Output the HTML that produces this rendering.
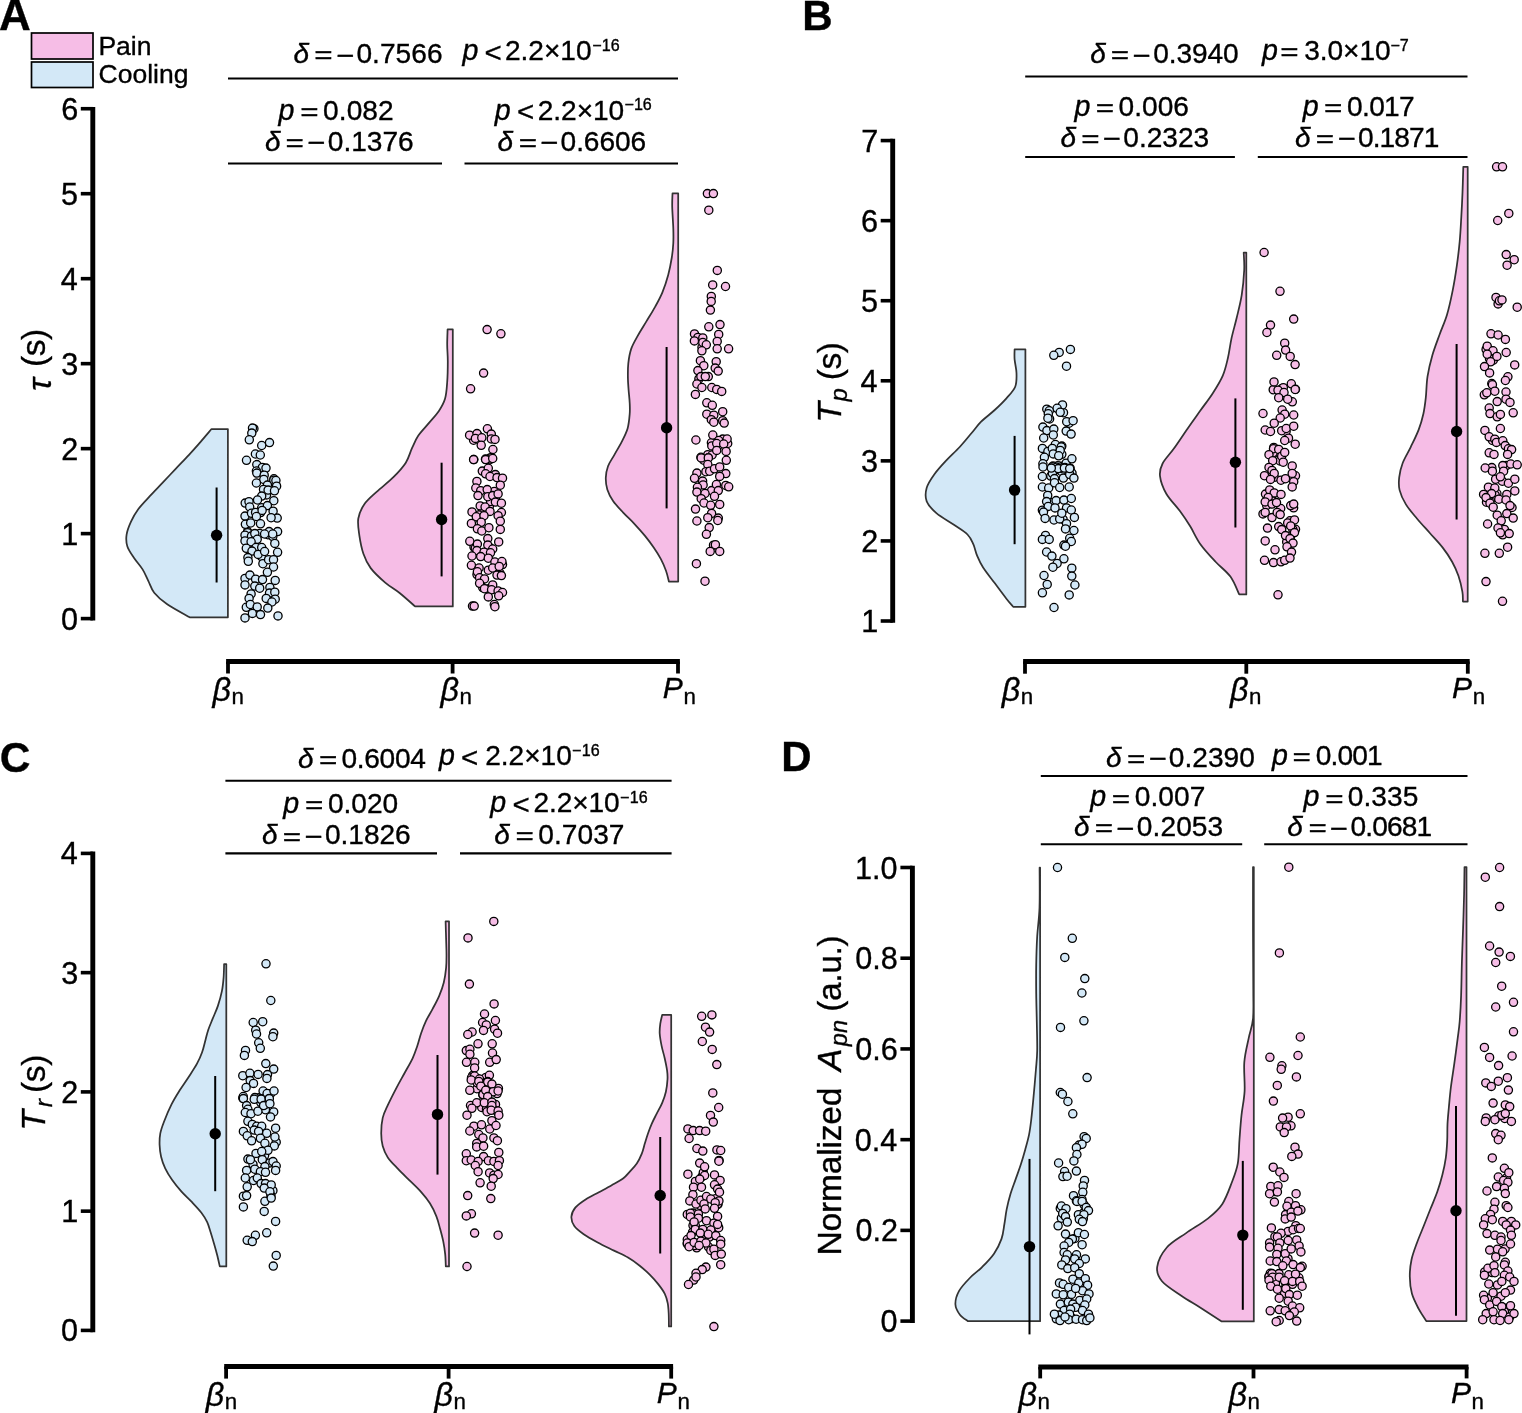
<!DOCTYPE html><html><head><meta charset="utf-8"><title>Raincloud plots</title><style>
html,body{margin:0;padding:0;background:#fff;width:1522px;height:1413px;overflow:hidden}
svg{display:block}
text{font-family:"Liberation Sans", Arial, Helvetica, sans-serif;fill:#000;stroke:#000;stroke-width:0.35px}
.v{stroke:#333;stroke-width:1.75;stroke-linejoin:round}
.pp circle{fill:#f6bde6}.pb circle{fill:#d3e8f7}.pp,.pb{stroke:#000;stroke-width:1.3}
</style></head><body>
<svg width="1522" height="1413" viewBox="0 0 1522 1413">
<rect width="1522" height="1413" fill="#fff"/>
<rect x="31.5" y="33" width="61.5" height="26" fill="#f6bde6" stroke="#000" stroke-width="1.7"/>
<rect x="31.5" y="62" width="61.5" height="25.5" fill="#d3e8f7" stroke="#000" stroke-width="1.7"/>
<line x1="92.8" y1="106.92" x2="92.8" y2="620.40" stroke="#000" stroke-width="4.9"/>
<line x1="80.8" y1="618.60" x2="92.8" y2="618.60" stroke="#000" stroke-width="3.6"/>
<line x1="80.8" y1="533.62" x2="92.8" y2="533.62" stroke="#000" stroke-width="3.6"/>
<line x1="80.8" y1="448.64" x2="92.8" y2="448.64" stroke="#000" stroke-width="3.6"/>
<line x1="80.8" y1="363.66" x2="92.8" y2="363.66" stroke="#000" stroke-width="3.6"/>
<line x1="80.8" y1="278.68" x2="92.8" y2="278.68" stroke="#000" stroke-width="3.6"/>
<line x1="80.8" y1="193.70" x2="92.8" y2="193.70" stroke="#000" stroke-width="3.6"/>
<line x1="80.8" y1="108.72" x2="92.8" y2="108.72" stroke="#000" stroke-width="3.6"/>
<line x1="226.1" y1="661.6" x2="679.9" y2="661.6" stroke="#000" stroke-width="5"/>
<line x1="228.0" y1="661.6" x2="228.0" y2="673.5" stroke="#000" stroke-width="3.8"/>
<line x1="452.6" y1="661.6" x2="452.6" y2="673.5" stroke="#000" stroke-width="3.8"/>
<line x1="678.0" y1="661.6" x2="678.0" y2="673.5" stroke="#000" stroke-width="3.8"/>
<line x1="892.7" y1="138.78" x2="892.7" y2="622.80" stroke="#000" stroke-width="4.9"/>
<line x1="880.7" y1="621.00" x2="892.7" y2="621.00" stroke="#000" stroke-width="3.6"/>
<line x1="880.7" y1="540.93" x2="892.7" y2="540.93" stroke="#000" stroke-width="3.6"/>
<line x1="880.7" y1="460.86" x2="892.7" y2="460.86" stroke="#000" stroke-width="3.6"/>
<line x1="880.7" y1="380.79" x2="892.7" y2="380.79" stroke="#000" stroke-width="3.6"/>
<line x1="880.7" y1="300.72" x2="892.7" y2="300.72" stroke="#000" stroke-width="3.6"/>
<line x1="880.7" y1="220.65" x2="892.7" y2="220.65" stroke="#000" stroke-width="3.6"/>
<line x1="880.7" y1="140.58" x2="892.7" y2="140.58" stroke="#000" stroke-width="3.6"/>
<line x1="1023.1" y1="661.5" x2="1469.7" y2="661.5" stroke="#000" stroke-width="5"/>
<line x1="1025.0" y1="661.5" x2="1025.0" y2="673.7" stroke="#000" stroke-width="3.8"/>
<line x1="1246.3" y1="661.5" x2="1246.3" y2="673.7" stroke="#000" stroke-width="3.8"/>
<line x1="1467.8" y1="661.5" x2="1467.8" y2="673.7" stroke="#000" stroke-width="3.8"/>
<line x1="92.8" y1="851.60" x2="92.8" y2="1332.20" stroke="#000" stroke-width="4.9"/>
<line x1="80.8" y1="1330.40" x2="92.8" y2="1330.40" stroke="#000" stroke-width="3.6"/>
<line x1="80.8" y1="1211.15" x2="92.8" y2="1211.15" stroke="#000" stroke-width="3.6"/>
<line x1="80.8" y1="1091.90" x2="92.8" y2="1091.90" stroke="#000" stroke-width="3.6"/>
<line x1="80.8" y1="972.65" x2="92.8" y2="972.65" stroke="#000" stroke-width="3.6"/>
<line x1="80.8" y1="853.40" x2="92.8" y2="853.40" stroke="#000" stroke-width="3.6"/>
<line x1="224.2" y1="1366.6" x2="673.1" y2="1366.6" stroke="#000" stroke-width="5"/>
<line x1="226.1" y1="1366.6" x2="226.1" y2="1378.6" stroke="#000" stroke-width="3.8"/>
<line x1="448.6" y1="1366.6" x2="448.6" y2="1378.6" stroke="#000" stroke-width="3.8"/>
<line x1="671.2" y1="1366.6" x2="671.2" y2="1378.6" stroke="#000" stroke-width="3.8"/>
<line x1="912.4" y1="865.70" x2="912.4" y2="1322.90" stroke="#000" stroke-width="4.9"/>
<line x1="900.4" y1="1321.10" x2="912.4" y2="1321.10" stroke="#000" stroke-width="3.6"/>
<line x1="900.4" y1="1230.38" x2="912.4" y2="1230.38" stroke="#000" stroke-width="3.6"/>
<line x1="900.4" y1="1139.66" x2="912.4" y2="1139.66" stroke="#000" stroke-width="3.6"/>
<line x1="900.4" y1="1048.94" x2="912.4" y2="1048.94" stroke="#000" stroke-width="3.6"/>
<line x1="900.4" y1="958.22" x2="912.4" y2="958.22" stroke="#000" stroke-width="3.6"/>
<line x1="900.4" y1="867.50" x2="912.4" y2="867.50" stroke="#000" stroke-width="3.6"/>
<line x1="1038.3" y1="1367.0" x2="1468.5" y2="1367.0" stroke="#000" stroke-width="5"/>
<line x1="1040.2" y1="1367.0" x2="1040.2" y2="1378.4" stroke="#000" stroke-width="3.8"/>
<line x1="1253.5" y1="1367.0" x2="1253.5" y2="1378.4" stroke="#000" stroke-width="3.8"/>
<line x1="1466.6" y1="1367.0" x2="1466.6" y2="1378.4" stroke="#000" stroke-width="3.8"/>
<path class="v" d="M211.50,429.00 C209.68,431.13 204.35,437.50 200.60,441.80 C196.85,446.10 193.12,450.33 189.00,454.80 C184.88,459.27 180.25,464.00 175.90,468.60 C171.55,473.20 167.25,477.80 162.90,482.40 C158.55,487.00 153.92,491.73 149.80,496.20 C145.68,500.67 141.33,504.97 138.20,509.20 C135.07,513.43 132.93,517.37 131.00,521.60 C129.07,525.83 127.22,530.50 126.60,534.60 C125.98,538.70 126.08,542.33 127.30,546.20 C128.52,550.07 131.35,553.93 133.90,557.80 C136.45,561.67 140.18,565.52 142.60,569.40 C145.02,573.28 146.47,577.22 148.40,581.10 C150.33,584.98 151.07,588.83 154.20,592.70 C157.33,596.57 161.28,600.20 167.20,604.30 C173.12,608.40 185.95,615.13 189.70,617.30 L227.90,617.30 L227.90,429.00 Z" fill="#d3e8f7"/>
<path class="v" d="M447.60,329.30 C447.53,331.88 447.17,339.45 447.20,344.80 C447.23,350.15 447.80,355.20 447.80,361.40 C447.80,367.60 447.65,375.80 447.20,382.00 C446.75,388.20 446.48,393.77 445.10,398.60 C443.72,403.43 441.65,406.87 438.90,411.00 C436.15,415.13 432.05,419.27 428.60,423.40 C425.15,427.53 420.97,431.67 418.20,435.80 C415.43,439.93 414.07,443.72 412.00,448.20 C409.93,452.68 408.90,457.87 405.80,462.70 C402.70,467.53 398.22,472.38 393.40,477.20 C388.58,482.02 381.72,487.13 376.90,491.60 C372.08,496.07 367.60,499.52 364.50,504.00 C361.40,508.48 359.17,513.32 358.30,518.50 C357.43,523.68 358.45,529.23 359.30,535.10 C360.15,540.97 361.50,548.20 363.40,553.70 C365.30,559.20 367.07,563.28 370.70,568.10 C374.33,572.92 380.38,578.45 385.20,582.60 C390.02,586.75 394.62,589.03 399.60,593.00 C404.58,596.97 412.52,604.17 415.10,606.40 L452.80,606.40 L452.80,329.30 Z" fill="#f6bde6"/>
<path class="v" d="M672.50,193.40 C672.45,195.63 672.07,200.95 672.20,206.80 C672.33,212.65 673.12,222.47 673.30,228.50 C673.48,234.53 673.55,238.17 673.30,243.00 C673.05,247.83 672.65,252.18 671.80,257.50 C670.95,262.82 669.77,269.10 668.20,274.90 C666.63,280.70 664.58,286.98 662.40,292.30 C660.22,297.62 657.77,301.95 655.10,306.80 C652.43,311.65 649.30,316.55 646.40,321.40 C643.50,326.25 640.23,331.32 637.70,335.90 C635.17,340.48 632.77,344.32 631.20,348.90 C629.63,353.48 628.85,358.57 628.30,363.40 C627.75,368.23 627.85,373.47 627.90,377.90 C627.95,382.33 628.30,385.82 628.60,390.00 C628.90,394.18 629.52,399.00 629.70,403.00 C629.88,407.00 630.05,409.75 629.70,414.00 C629.35,418.25 628.92,423.90 627.60,428.50 C626.28,433.10 623.98,437.25 621.80,441.60 C619.62,445.95 616.80,450.50 614.50,454.60 C612.20,458.70 609.45,462.33 608.00,466.20 C606.55,470.07 605.92,473.93 605.80,477.80 C605.68,481.67 606.08,485.53 607.30,489.40 C608.52,493.27 610.45,497.13 613.10,501.00 C615.75,504.87 619.58,508.72 623.20,512.60 C626.82,516.48 631.17,520.42 634.80,524.30 C638.43,528.18 641.85,532.03 645.00,535.90 C648.15,539.77 651.05,543.63 653.70,547.50 C656.35,551.37 658.85,555.23 660.90,559.10 C662.95,562.97 664.67,566.97 666.00,570.70 C667.33,574.43 668.42,579.70 668.90,581.50 L678.20,581.50 L678.20,193.40 Z" fill="#f6bde6"/>
<path class="v" d="M1014.60,349.30 C1014.60,350.98 1014.28,355.43 1014.60,359.40 C1014.92,363.37 1016.40,368.55 1016.50,373.10 C1016.60,377.65 1016.88,382.50 1015.20,386.70 C1013.52,390.90 1009.82,394.42 1006.40,398.30 C1002.98,402.18 998.92,406.10 994.70,410.00 C990.48,413.90 984.98,417.82 981.10,421.70 C977.22,425.58 974.97,429.08 971.40,433.30 C967.83,437.52 963.92,442.45 959.70,447.00 C955.48,451.55 950.32,456.07 946.10,460.60 C941.88,465.13 937.63,469.67 934.40,474.20 C931.17,478.73 927.98,483.27 926.70,487.80 C925.42,492.33 925.08,497.18 926.70,501.40 C928.32,505.62 931.87,509.20 936.40,513.10 C940.93,517.00 948.72,521.23 953.90,524.80 C959.08,528.37 964.27,531.27 967.50,534.50 C970.73,537.73 971.68,540.63 973.30,544.20 C974.92,547.77 975.57,552.02 977.20,555.90 C978.83,559.78 980.18,562.97 983.10,567.50 C986.02,572.03 990.82,577.90 994.70,583.10 C998.58,588.30 1003.32,594.75 1006.40,598.70 C1009.48,602.65 1012.07,605.45 1013.20,606.80 L1025.40,606.80 L1025.40,349.30 Z" fill="#d3e8f7"/>
<path class="v" d="M1243.70,252.50 C1243.78,255.43 1244.53,262.98 1244.20,270.10 C1243.87,277.22 1242.95,287.25 1241.70,295.20 C1240.45,303.15 1238.38,310.68 1236.70,317.80 C1235.02,324.92 1233.07,331.20 1231.60,337.90 C1230.13,344.60 1229.37,351.72 1227.90,358.00 C1226.43,364.28 1225.32,369.73 1222.80,375.60 C1220.28,381.47 1216.57,387.33 1212.80,393.20 C1209.03,399.07 1204.38,404.93 1200.20,410.80 C1196.02,416.67 1192.08,422.12 1187.70,428.40 C1183.32,434.68 1178.08,442.65 1173.90,448.50 C1169.72,454.35 1164.92,458.90 1162.60,463.50 C1160.28,468.10 1159.38,471.07 1160.00,476.10 C1160.62,481.13 1162.95,487.83 1166.30,493.70 C1169.65,499.57 1176.12,505.87 1180.10,511.30 C1184.08,516.73 1186.85,520.87 1190.20,526.30 C1193.55,531.73 1196.02,538.03 1200.20,543.90 C1204.38,549.77 1210.27,556.05 1215.30,561.50 C1220.33,566.95 1226.42,571.12 1230.40,576.60 C1234.38,582.08 1237.73,591.43 1239.20,594.40 L1246.30,594.40 L1246.30,252.50 Z" fill="#f6bde6"/>
<path class="v" d="M1463.30,166.80 C1463.17,171.10 1462.83,184.23 1462.50,192.60 C1462.17,200.97 1461.77,208.87 1461.30,217.00 C1460.83,225.13 1460.45,233.27 1459.70,241.40 C1458.95,249.53 1457.97,257.65 1456.80,265.80 C1455.63,273.95 1454.33,282.15 1452.70,290.30 C1451.07,298.45 1449.17,307.38 1447.00,314.70 C1444.83,322.02 1442.15,327.42 1439.70,334.20 C1437.25,340.98 1434.33,348.33 1432.30,355.40 C1430.27,362.47 1428.58,369.55 1427.50,376.60 C1426.42,383.65 1426.48,391.52 1425.80,397.70 C1425.12,403.88 1424.58,408.38 1423.40,413.70 C1422.22,419.02 1420.82,424.03 1418.70,429.60 C1416.58,435.17 1413.37,441.53 1410.70,447.10 C1408.03,452.67 1404.62,457.97 1402.70,463.00 C1400.78,468.03 1399.72,472.78 1399.20,477.30 C1398.68,481.82 1398.48,485.58 1399.60,490.10 C1400.72,494.62 1402.98,499.63 1405.90,504.40 C1408.82,509.17 1413.12,513.93 1417.10,518.70 C1421.08,523.47 1425.57,528.22 1429.80,533.00 C1434.03,537.78 1438.78,542.62 1442.50,547.40 C1446.22,552.18 1449.43,556.93 1452.10,561.70 C1454.77,566.47 1456.78,570.97 1458.50,576.00 C1460.22,581.03 1461.67,587.65 1462.40,591.90 C1463.13,596.15 1462.82,599.90 1462.90,601.50 L1467.70,601.50 L1467.70,166.80 Z" fill="#f6bde6"/>
<path class="v" d="M224.10,964.10 C224.02,966.35 223.97,973.08 223.60,977.60 C223.23,982.12 222.85,986.48 221.90,991.20 C220.95,995.92 219.42,1001.37 217.90,1005.90 C216.38,1010.43 214.40,1014.43 212.80,1018.40 C211.20,1022.37 209.52,1026.12 208.30,1029.70 C207.08,1033.28 206.53,1036.13 205.50,1039.90 C204.47,1043.67 203.52,1048.33 202.10,1052.30 C200.68,1056.27 199.27,1059.55 197.00,1063.70 C194.73,1067.85 191.43,1072.68 188.50,1077.20 C185.57,1081.72 182.23,1086.27 179.40,1090.80 C176.57,1095.33 174.07,1099.25 171.50,1104.40 C168.93,1109.55 165.87,1116.87 164.00,1121.70 C162.13,1126.53 161.03,1129.52 160.30,1133.40 C159.57,1137.28 159.47,1141.12 159.60,1145.00 C159.73,1148.88 160.17,1152.80 161.10,1156.70 C162.03,1160.60 163.35,1164.50 165.20,1168.40 C167.05,1172.30 169.48,1176.22 172.20,1180.10 C174.92,1183.98 178.20,1188.02 181.50,1191.70 C184.80,1195.38 188.68,1198.70 192.00,1202.20 C195.32,1205.70 198.87,1209.38 201.40,1212.70 C203.93,1216.02 205.65,1218.78 207.20,1222.10 C208.75,1225.42 209.53,1228.90 210.70,1232.60 C211.87,1236.30 213.13,1240.60 214.20,1244.30 C215.27,1248.00 216.17,1251.12 217.10,1254.80 C218.03,1258.48 219.35,1264.47 219.80,1266.40 L226.30,1266.40 L226.30,964.10 Z" fill="#d3e8f7"/>
<path class="v" d="M445.60,921.30 C445.68,924.18 445.95,933.05 446.10,938.60 C446.25,944.15 446.50,949.72 446.50,954.60 C446.50,959.48 446.55,963.25 446.10,967.90 C445.65,972.55 444.95,977.85 443.80,982.50 C442.65,987.15 441.08,991.37 439.20,995.80 C437.32,1000.23 434.72,1004.88 432.50,1009.10 C430.28,1013.32 427.78,1017.12 425.90,1021.10 C424.02,1025.08 422.65,1028.80 421.20,1033.00 C419.75,1037.20 418.63,1042.08 417.20,1046.30 C415.77,1050.52 414.70,1053.85 412.60,1058.30 C410.50,1062.75 407.27,1068.12 404.60,1073.00 C401.93,1077.88 399.40,1082.23 396.60,1087.60 C393.80,1092.97 390.12,1100.15 387.80,1105.20 C385.48,1110.25 383.80,1113.23 382.70,1117.90 C381.60,1122.57 381.20,1128.52 381.20,1133.20 C381.20,1137.88 381.60,1141.97 382.70,1146.00 C383.80,1150.03 385.25,1153.58 387.80,1157.40 C390.35,1161.22 394.38,1165.07 398.00,1168.90 C401.62,1172.73 405.67,1176.57 409.50,1180.40 C413.33,1184.23 417.60,1188.08 421.00,1191.90 C424.40,1195.72 427.35,1199.27 429.90,1203.30 C432.45,1207.33 434.60,1211.85 436.30,1216.10 C438.00,1220.35 438.93,1224.55 440.10,1228.80 C441.27,1233.05 442.45,1237.35 443.30,1241.60 C444.15,1245.85 444.78,1250.17 445.20,1254.30 C445.62,1258.43 445.70,1264.38 445.80,1266.40 L449.00,1266.40 L449.00,921.30 Z" fill="#f6bde6"/>
<path class="v" d="M662.20,1014.90 C661.88,1016.35 660.72,1020.50 660.30,1023.60 C659.88,1026.70 659.48,1029.78 659.70,1033.50 C659.92,1037.22 660.77,1041.78 661.60,1045.90 C662.43,1050.02 663.78,1054.08 664.70,1058.20 C665.62,1062.32 666.63,1067.08 667.10,1070.60 C667.57,1074.12 667.70,1075.78 667.50,1079.30 C667.30,1082.82 666.78,1087.78 665.90,1091.70 C665.02,1095.62 663.75,1099.10 662.20,1102.80 C660.65,1106.50 658.35,1110.40 656.60,1113.90 C654.85,1117.40 653.15,1120.50 651.70,1123.80 C650.25,1127.10 649.05,1130.40 647.90,1133.70 C646.75,1137.00 645.82,1140.28 644.80,1143.60 C643.78,1146.92 643.13,1150.28 641.80,1153.60 C640.47,1156.92 638.87,1160.42 636.80,1163.50 C634.73,1166.58 631.63,1169.65 629.40,1172.10 C627.17,1174.55 626.35,1176.02 623.40,1178.20 C620.45,1180.38 615.78,1182.87 611.70,1185.20 C607.62,1187.53 603.18,1189.87 598.90,1192.20 C594.62,1194.53 589.90,1196.67 586.00,1199.20 C582.10,1201.73 577.93,1204.48 575.50,1207.40 C573.07,1210.32 571.60,1213.60 571.40,1216.70 C571.20,1219.80 572.25,1223.08 574.30,1226.00 C576.35,1228.92 579.80,1231.47 583.70,1234.20 C587.60,1236.93 592.65,1239.67 597.70,1242.40 C602.75,1245.13 608.95,1248.07 614.00,1250.60 C619.05,1253.13 623.72,1255.08 628.00,1257.60 C632.28,1260.12 636.00,1262.78 639.70,1265.70 C643.40,1268.62 647.08,1271.98 650.20,1275.10 C653.32,1278.22 655.97,1281.28 658.40,1284.40 C660.83,1287.52 663.25,1290.68 664.80,1293.80 C666.35,1296.92 667.05,1299.80 667.70,1303.10 C668.35,1306.40 668.50,1309.72 668.70,1313.60 C668.90,1317.48 668.87,1324.27 668.90,1326.40 L671.20,1326.40 L671.20,1014.90 Z" fill="#f6bde6"/>
<path class="v" d="M1039.60,867.60 C1039.58,874.28 1039.90,896.25 1039.50,907.70 C1039.10,919.15 1037.75,926.77 1037.20,936.30 C1036.65,945.83 1036.37,955.37 1036.20,964.90 C1036.03,974.43 1036.10,983.97 1036.20,993.50 C1036.30,1003.03 1036.63,1012.57 1036.80,1022.10 C1036.97,1031.63 1037.35,1042.75 1037.20,1050.70 C1037.05,1058.65 1036.53,1061.85 1035.90,1069.80 C1035.27,1077.75 1034.18,1090.03 1033.40,1098.40 C1032.62,1106.77 1031.93,1113.92 1031.20,1120.00 C1030.47,1126.08 1030.00,1129.95 1029.00,1134.90 C1028.00,1139.85 1026.57,1144.75 1025.20,1149.70 C1023.83,1154.65 1022.40,1159.65 1020.80,1164.60 C1019.20,1169.55 1017.33,1174.45 1015.60,1179.40 C1013.87,1184.35 1011.88,1189.33 1010.40,1194.30 C1008.92,1199.27 1007.70,1204.25 1006.70,1209.20 C1005.70,1214.15 1005.27,1219.05 1004.40,1224.00 C1003.53,1228.95 1003.23,1233.95 1001.50,1238.90 C999.77,1243.85 997.23,1249.00 994.00,1253.70 C990.77,1258.40 986.05,1263.13 982.10,1267.10 C978.15,1271.07 974.13,1273.53 970.30,1277.50 C966.47,1281.47 961.58,1286.45 959.10,1290.90 C956.62,1295.35 955.27,1300.23 955.40,1304.20 C955.53,1308.17 957.80,1311.87 959.90,1314.70 C962.00,1317.53 966.65,1320.12 968.00,1321.20 L1040.10,1321.20 L1040.10,867.60 Z" fill="#d3e8f7"/>
<path class="v" d="M1253.00,867.10 C1253.00,877.58 1252.95,909.52 1253.00,930.00 C1253.05,950.48 1253.30,975.18 1253.30,990.00 C1253.30,1004.82 1253.77,1010.88 1253.00,1018.90 C1252.23,1026.92 1250.15,1030.88 1248.70,1038.10 C1247.25,1045.32 1244.98,1053.37 1244.30,1062.20 C1243.62,1071.03 1245.07,1082.27 1244.60,1091.10 C1244.13,1099.93 1242.35,1107.18 1241.50,1115.20 C1240.65,1123.22 1240.12,1131.18 1239.50,1139.20 C1238.88,1147.22 1239.08,1156.08 1237.80,1163.30 C1236.52,1170.52 1234.40,1175.68 1231.80,1182.50 C1229.20,1189.32 1226.20,1198.18 1222.20,1204.20 C1218.20,1210.22 1213.82,1213.78 1207.80,1218.60 C1201.78,1223.42 1192.93,1228.28 1186.10,1233.10 C1179.27,1237.92 1171.62,1241.88 1166.80,1247.50 C1161.98,1253.12 1158.00,1261.18 1157.20,1266.80 C1156.40,1272.42 1157.98,1276.38 1162.00,1281.20 C1166.02,1286.02 1174.88,1291.28 1181.30,1295.70 C1187.72,1300.12 1193.77,1303.42 1200.50,1307.70 C1207.23,1311.98 1218.17,1319.12 1221.70,1321.40 L1253.80,1321.40 L1253.80,867.10 Z" fill="#f6bde6"/>
<path class="v" d="M1464.50,867.10 C1464.43,871.57 1464.33,883.77 1464.10,893.90 C1463.87,904.03 1463.47,916.58 1463.10,927.90 C1462.73,939.22 1462.23,950.48 1461.90,961.80 C1461.57,973.12 1461.47,985.90 1461.10,995.80 C1460.73,1005.70 1460.27,1014.13 1459.70,1021.20 C1459.13,1028.27 1458.60,1031.13 1457.70,1038.20 C1456.80,1045.27 1455.43,1055.47 1454.30,1063.60 C1453.17,1071.73 1451.80,1079.77 1450.90,1087.00 C1450.00,1094.23 1449.47,1100.85 1448.90,1107.00 C1448.33,1113.15 1447.78,1118.25 1447.50,1123.90 C1447.22,1129.55 1447.48,1135.23 1447.20,1140.90 C1446.92,1146.57 1446.60,1152.25 1445.80,1157.90 C1445.00,1163.55 1443.82,1169.15 1442.40,1174.80 C1440.98,1180.45 1439.28,1186.13 1437.30,1191.80 C1435.32,1197.47 1432.75,1203.13 1430.50,1208.80 C1428.25,1214.47 1426.05,1220.15 1423.80,1225.80 C1421.55,1231.45 1419.05,1237.05 1417.00,1242.70 C1414.95,1248.35 1412.70,1254.03 1411.50,1259.70 C1410.30,1265.37 1409.73,1271.05 1409.80,1276.70 C1409.87,1282.35 1410.42,1288.23 1411.90,1293.60 C1413.38,1298.97 1416.30,1304.33 1418.70,1308.90 C1421.10,1313.47 1425.03,1318.98 1426.30,1321.00 L1466.50,1321.00 L1466.50,867.10 Z" fill="#f6bde6"/>
<line x1="216.6" y1="487.5" x2="216.6" y2="582.5" stroke="#000" stroke-width="2"/>
<circle cx="216.6" cy="535.2" r="5.7" fill="#000"/>
<line x1="441.6" y1="462.7" x2="441.6" y2="576.4" stroke="#000" stroke-width="2"/>
<circle cx="441.6" cy="519.5" r="5.7" fill="#000"/>
<line x1="666.6" y1="347.0" x2="666.6" y2="508.4" stroke="#000" stroke-width="2"/>
<circle cx="666.6" cy="427.8" r="5.7" fill="#000"/>
<line x1="1014.6" y1="435.9" x2="1014.6" y2="544.2" stroke="#000" stroke-width="2"/>
<circle cx="1014.6" cy="490.1" r="5.7" fill="#000"/>
<line x1="1235.4" y1="398.4" x2="1235.4" y2="527.5" stroke="#000" stroke-width="2"/>
<circle cx="1235.4" cy="462.3" r="5.7" fill="#000"/>
<line x1="1456.6" y1="344.0" x2="1456.6" y2="519.5" stroke="#000" stroke-width="2"/>
<circle cx="1456.6" cy="431.5" r="5.7" fill="#000"/>
<line x1="215.2" y1="1076.0" x2="215.2" y2="1191.2" stroke="#000" stroke-width="2"/>
<circle cx="215.2" cy="1133.7" r="5.7" fill="#000"/>
<line x1="437.5" y1="1055.0" x2="437.5" y2="1174.6" stroke="#000" stroke-width="2"/>
<circle cx="437.5" cy="1114.4" r="5.7" fill="#000"/>
<line x1="660.2" y1="1137.0" x2="660.2" y2="1253.5" stroke="#000" stroke-width="2"/>
<circle cx="660.2" cy="1195.5" r="5.7" fill="#000"/>
<line x1="1029.5" y1="1158.9" x2="1029.5" y2="1334.4" stroke="#000" stroke-width="2"/>
<circle cx="1029.5" cy="1246.6" r="5.7" fill="#000"/>
<line x1="1242.8" y1="1160.9" x2="1242.8" y2="1309.8" stroke="#000" stroke-width="2"/>
<circle cx="1242.8" cy="1235.1" r="5.7" fill="#000"/>
<line x1="1456.0" y1="1106.1" x2="1456.0" y2="1315.7" stroke="#000" stroke-width="2"/>
<circle cx="1456.0" cy="1210.8" r="5.7" fill="#000"/>
<g class="pb">
<circle cx="255.0" cy="538.9" r="4.1"/><circle cx="266.5" cy="494.9" r="4.1"/><circle cx="253.9" cy="428.7" r="4.1"/><circle cx="268.0" cy="534.7" r="4.1"/><circle cx="245.2" cy="503.1" r="4.1"/><circle cx="259.7" cy="533.5" r="4.1"/><circle cx="254.3" cy="541.5" r="4.1"/><circle cx="273.9" cy="478.8" r="4.1"/><circle cx="258.6" cy="467.1" r="4.1"/><circle cx="272.4" cy="596.2" r="4.1"/><circle cx="272.8" cy="536.6" r="4.1"/><circle cx="275.5" cy="483.3" r="4.1"/><circle cx="260.6" cy="512.6" r="4.1"/><circle cx="273.2" cy="485.3" r="4.1"/><circle cx="247.6" cy="531.6" r="4.1"/><circle cx="261.5" cy="556.6" r="4.1"/><circle cx="247.5" cy="532.7" r="4.1"/><circle cx="254.5" cy="543.1" r="4.1"/><circle cx="252.5" cy="428.1" r="4.1"/><circle cx="251.8" cy="433.1" r="4.1"/><circle cx="249.3" cy="439.8" r="4.1"/><circle cx="261.7" cy="445.5" r="4.1"/><circle cx="269.5" cy="442.6" r="4.1"/><circle cx="255.4" cy="454.0" r="4.1"/><circle cx="260.3" cy="455.0" r="4.1"/><circle cx="246.5" cy="460.3" r="4.1"/><circle cx="256.8" cy="464.6" r="4.1"/><circle cx="262.4" cy="467.4" r="4.1"/><circle cx="266.0" cy="468.1" r="4.1"/><circle cx="256.4" cy="471.0" r="4.1"/><circle cx="256.8" cy="473.1" r="4.1"/><circle cx="264.2" cy="475.2" r="4.1"/><circle cx="263.8" cy="479.4" r="4.1"/><circle cx="273.8" cy="480.2" r="4.1"/><circle cx="275.9" cy="480.5" r="4.1"/><circle cx="256.4" cy="483.0" r="4.1"/><circle cx="267.4" cy="485.1" r="4.1"/><circle cx="276.6" cy="486.2" r="4.1"/><circle cx="263.5" cy="489.4" r="4.1"/><circle cx="268.1" cy="490.1" r="4.1"/><circle cx="274.5" cy="490.8" r="4.1"/><circle cx="261.7" cy="496.1" r="4.1"/><circle cx="257.5" cy="500.0" r="4.1"/><circle cx="249.0" cy="501.7" r="4.1"/><circle cx="273.8" cy="500.7" r="4.1"/><circle cx="249.7" cy="507.0" r="4.1"/><circle cx="261.7" cy="507.8" r="4.1"/><circle cx="267.4" cy="505.6" r="4.1"/><circle cx="245.0" cy="516.1" r="4.1"/><circle cx="251.5" cy="513.3" r="4.1"/><circle cx="255.6" cy="512.4" r="4.1"/><circle cx="262.1" cy="510.4" r="4.1"/><circle cx="273.1" cy="511.2" r="4.1"/><circle cx="256.4" cy="516.5" r="4.1"/><circle cx="277.2" cy="518.1" r="4.1"/><circle cx="271.1" cy="517.7" r="4.1"/><circle cx="245.4" cy="524.3" r="4.1"/><circle cx="250.7" cy="523.0" r="4.1"/><circle cx="260.5" cy="523.8" r="4.1"/><circle cx="269.1" cy="531.6" r="4.1"/><circle cx="277.6" cy="531.6" r="4.1"/><circle cx="264.6" cy="534.0" r="4.1"/><circle cx="272.7" cy="534.0" r="4.1"/><circle cx="245.0" cy="535.2" r="4.1"/><circle cx="251.5" cy="536.1" r="4.1"/><circle cx="254.8" cy="533.6" r="4.1"/><circle cx="257.2" cy="539.3" r="4.1"/><circle cx="245.0" cy="540.9" r="4.1"/><circle cx="251.1" cy="541.8" r="4.1"/><circle cx="274.8" cy="543.4" r="4.1"/><circle cx="246.3" cy="548.3" r="4.1"/><circle cx="256.0" cy="547.5" r="4.1"/><circle cx="261.7" cy="547.5" r="4.1"/><circle cx="252.0" cy="551.1" r="4.1"/><circle cx="258.1" cy="554.4" r="4.1"/><circle cx="264.6" cy="551.5" r="4.1"/><circle cx="277.6" cy="552.3" r="4.1"/><circle cx="247.9" cy="557.6" r="4.1"/><circle cx="248.3" cy="561.3" r="4.1"/><circle cx="262.9" cy="563.7" r="4.1"/><circle cx="268.6" cy="559.7" r="4.1"/><circle cx="273.5" cy="559.7" r="4.1"/><circle cx="273.5" cy="567.0" r="4.1"/><circle cx="267.4" cy="572.3" r="4.1"/><circle cx="245.0" cy="578.4" r="4.1"/><circle cx="249.9" cy="575.1" r="4.1"/><circle cx="255.6" cy="579.2" r="4.1"/><circle cx="262.5" cy="579.6" r="4.1"/><circle cx="275.2" cy="580.4" r="4.1"/><circle cx="245.0" cy="584.9" r="4.1"/><circle cx="254.8" cy="586.1" r="4.1"/><circle cx="259.7" cy="588.2" r="4.1"/><circle cx="269.9" cy="587.4" r="4.1"/><circle cx="251.1" cy="593.9" r="4.1"/><circle cx="269.5" cy="593.1" r="4.1"/><circle cx="274.8" cy="592.2" r="4.1"/><circle cx="249.1" cy="598.4" r="4.1"/><circle cx="266.2" cy="598.4" r="4.1"/><circle cx="275.2" cy="599.2" r="4.1"/><circle cx="271.9" cy="602.0" r="4.1"/><circle cx="246.3" cy="607.3" r="4.1"/><circle cx="250.3" cy="604.5" r="4.1"/><circle cx="257.2" cy="606.9" r="4.1"/><circle cx="267.8" cy="608.1" r="4.1"/><circle cx="252.4" cy="613.4" r="4.1"/><circle cx="260.5" cy="614.6" r="4.1"/><circle cx="245.0" cy="617.9" r="4.1"/><circle cx="278.0" cy="615.9" r="4.1"/>
</g>
<g class="pp">
<circle cx="495.6" cy="499.6" r="4.1"/><circle cx="489.3" cy="506.5" r="4.1"/><circle cx="474.0" cy="547.1" r="4.1"/><circle cx="489.7" cy="459.7" r="4.1"/><circle cx="480.8" cy="519.9" r="4.1"/><circle cx="495.4" cy="474.6" r="4.1"/><circle cx="499.9" cy="573.2" r="4.1"/><circle cx="502.5" cy="564.6" r="4.1"/><circle cx="489.7" cy="547.6" r="4.1"/><circle cx="488.7" cy="588.8" r="4.1"/><circle cx="477.0" cy="574.6" r="4.1"/><circle cx="482.3" cy="508.7" r="4.1"/><circle cx="478.2" cy="435.6" r="4.1"/><circle cx="475.3" cy="548.3" r="4.1"/><circle cx="473.6" cy="440.2" r="4.1"/><circle cx="489.9" cy="458.1" r="4.1"/><circle cx="478.9" cy="515.0" r="4.1"/><circle cx="494.3" cy="491.5" r="4.1"/><circle cx="490.6" cy="501.5" r="4.1"/><circle cx="482.7" cy="587.6" r="4.1"/><circle cx="487.1" cy="329.6" r="4.1"/><circle cx="500.9" cy="333.8" r="4.1"/><circle cx="483.6" cy="373.1" r="4.1"/><circle cx="470.6" cy="388.8" r="4.1"/><circle cx="487.4" cy="428.8" r="4.1"/><circle cx="469.6" cy="435.2" r="4.1"/><circle cx="477.0" cy="433.6" r="4.1"/><circle cx="475.4" cy="438.4" r="4.1"/><circle cx="481.8" cy="437.8" r="4.1"/><circle cx="491.3" cy="434.1" r="4.1"/><circle cx="491.3" cy="438.9" r="4.1"/><circle cx="495.0" cy="439.4" r="4.1"/><circle cx="481.2" cy="445.3" r="4.1"/><circle cx="492.9" cy="449.5" r="4.1"/><circle cx="491.8" cy="457.5" r="4.1"/><circle cx="473.8" cy="459.6" r="4.1"/><circle cx="485.5" cy="459.1" r="4.1"/><circle cx="473.6" cy="459.6" r="4.1"/><circle cx="485.6" cy="459.6" r="4.1"/><circle cx="492.7" cy="458.5" r="4.1"/><circle cx="482.3" cy="471.1" r="4.1"/><circle cx="488.3" cy="468.3" r="4.1"/><circle cx="485.6" cy="473.8" r="4.1"/><circle cx="490.0" cy="476.5" r="4.1"/><circle cx="497.0" cy="477.6" r="4.1"/><circle cx="502.5" cy="478.2" r="4.1"/><circle cx="500.3" cy="485.2" r="4.1"/><circle cx="476.9" cy="481.4" r="4.1"/><circle cx="475.8" cy="488.0" r="4.1"/><circle cx="480.7" cy="490.7" r="4.1"/><circle cx="487.2" cy="489.6" r="4.1"/><circle cx="478.0" cy="495.6" r="4.1"/><circle cx="487.8" cy="496.7" r="4.1"/><circle cx="492.7" cy="495.6" r="4.1"/><circle cx="498.1" cy="493.9" r="4.1"/><circle cx="495.4" cy="502.1" r="4.1"/><circle cx="501.4" cy="503.2" r="4.1"/><circle cx="480.2" cy="505.9" r="4.1"/><circle cx="485.1" cy="507.0" r="4.1"/><circle cx="472.0" cy="511.9" r="4.1"/><circle cx="490.0" cy="511.4" r="4.1"/><circle cx="501.4" cy="512.5" r="4.1"/><circle cx="476.3" cy="516.8" r="4.1"/><circle cx="484.0" cy="515.7" r="4.1"/><circle cx="498.1" cy="515.7" r="4.1"/><circle cx="471.4" cy="523.4" r="4.1"/><circle cx="481.2" cy="522.3" r="4.1"/><circle cx="477.4" cy="528.8" r="4.1"/><circle cx="481.8" cy="531.0" r="4.1"/><circle cx="488.9" cy="527.7" r="4.1"/><circle cx="500.3" cy="521.2" r="4.1"/><circle cx="500.3" cy="529.4" r="4.1"/><circle cx="469.8" cy="541.3" r="4.1"/><circle cx="487.8" cy="538.6" r="4.1"/><circle cx="498.7" cy="541.9" r="4.1"/><circle cx="477.4" cy="544.1" r="4.1"/><circle cx="487.8" cy="545.1" r="4.1"/><circle cx="492.7" cy="549.0" r="4.1"/><circle cx="476.9" cy="550.6" r="4.1"/><circle cx="484.0" cy="552.2" r="4.1"/><circle cx="490.5" cy="552.8" r="4.1"/><circle cx="472.0" cy="556.0" r="4.1"/><circle cx="480.7" cy="556.6" r="4.1"/><circle cx="488.3" cy="558.2" r="4.1"/><circle cx="494.9" cy="562.0" r="4.1"/><circle cx="501.9" cy="561.5" r="4.1"/><circle cx="471.4" cy="565.3" r="4.1"/><circle cx="479.1" cy="568.0" r="4.1"/><circle cx="477.4" cy="571.8" r="4.1"/><circle cx="488.3" cy="570.2" r="4.1"/><circle cx="492.7" cy="568.0" r="4.1"/><circle cx="499.2" cy="566.4" r="4.1"/><circle cx="497.0" cy="575.1" r="4.1"/><circle cx="501.4" cy="575.6" r="4.1"/><circle cx="479.6" cy="577.8" r="4.1"/><circle cx="484.5" cy="578.9" r="4.1"/><circle cx="479.6" cy="583.3" r="4.1"/><circle cx="492.7" cy="584.9" r="4.1"/><circle cx="484.5" cy="588.7" r="4.1"/><circle cx="491.6" cy="589.8" r="4.1"/><circle cx="498.1" cy="590.9" r="4.1"/><circle cx="502.5" cy="592.5" r="4.1"/><circle cx="498.7" cy="595.8" r="4.1"/><circle cx="488.3" cy="596.9" r="4.1"/><circle cx="472.5" cy="606.1" r="4.1"/><circle cx="474.2" cy="606.1" r="4.1"/><circle cx="494.3" cy="604.5" r="4.1"/><circle cx="494.9" cy="606.7" r="4.1"/>
</g>
<g class="pp">
<circle cx="711.3" cy="296.4" r="4.1"/><circle cx="702.0" cy="347.3" r="4.1"/><circle cx="694.5" cy="333.9" r="4.1"/><circle cx="707.8" cy="454.7" r="4.1"/><circle cx="698.9" cy="378.9" r="4.1"/><circle cx="722.7" cy="439.1" r="4.1"/><circle cx="718.0" cy="445.8" r="4.1"/><circle cx="727.7" cy="443.5" r="4.1"/><circle cx="712.1" cy="455.0" r="4.1"/><circle cx="703.7" cy="460.2" r="4.1"/><circle cx="719.1" cy="442.2" r="4.1"/><circle cx="711.4" cy="442.8" r="4.1"/><circle cx="707.4" cy="193.6" r="4.1"/><circle cx="713.4" cy="193.6" r="4.1"/><circle cx="708.8" cy="210.2" r="4.1"/><circle cx="717.3" cy="270.4" r="4.1"/><circle cx="712.7" cy="284.9" r="4.1"/><circle cx="725.5" cy="286.5" r="4.1"/><circle cx="711.2" cy="301.4" r="4.1"/><circle cx="710.4" cy="310.1" r="4.1"/><circle cx="708.8" cy="326.8" r="4.1"/><circle cx="720.0" cy="324.6" r="4.1"/><circle cx="718.7" cy="334.4" r="4.1"/><circle cx="697.9" cy="337.4" r="4.1"/><circle cx="694.4" cy="340.9" r="4.1"/><circle cx="702.8" cy="337.9" r="4.1"/><circle cx="702.8" cy="342.4" r="4.1"/><circle cx="706.3" cy="344.8" r="4.1"/><circle cx="717.2" cy="341.4" r="4.1"/><circle cx="717.2" cy="348.8" r="4.1"/><circle cx="728.6" cy="348.8" r="4.1"/><circle cx="701.9" cy="350.8" r="4.1"/><circle cx="700.4" cy="360.7" r="4.1"/><circle cx="716.2" cy="361.7" r="4.1"/><circle cx="703.8" cy="365.7" r="4.1"/><circle cx="715.2" cy="368.1" r="4.1"/><circle cx="697.9" cy="370.6" r="4.1"/><circle cx="718.2" cy="371.1" r="4.1"/><circle cx="700.9" cy="376.6" r="4.1"/><circle cx="708.3" cy="376.6" r="4.1"/><circle cx="705.3" cy="376.6" r="4.1"/><circle cx="696.9" cy="384.0" r="4.1"/><circle cx="701.9" cy="387.5" r="4.1"/><circle cx="711.8" cy="387.5" r="4.1"/><circle cx="716.7" cy="389.4" r="4.1"/><circle cx="721.7" cy="391.4" r="4.1"/><circle cx="695.4" cy="394.4" r="4.1"/><circle cx="706.8" cy="402.8" r="4.1"/><circle cx="712.3" cy="405.3" r="4.1"/><circle cx="722.7" cy="411.7" r="4.1"/><circle cx="706.8" cy="414.2" r="4.1"/><circle cx="713.8" cy="415.2" r="4.1"/><circle cx="711.3" cy="419.7" r="4.1"/><circle cx="713.8" cy="422.2" r="4.1"/><circle cx="722.7" cy="420.7" r="4.1"/><circle cx="724.2" cy="423.1" r="4.1"/><circle cx="695.9" cy="440.0" r="4.1"/><circle cx="712.8" cy="435.0" r="4.1"/><circle cx="718.7" cy="440.5" r="4.1"/><circle cx="727.1" cy="439.0" r="4.1"/><circle cx="711.8" cy="445.9" r="4.1"/><circle cx="716.7" cy="443.5" r="4.1"/><circle cx="723.7" cy="444.0" r="4.1"/><circle cx="716.7" cy="450.4" r="4.1"/><circle cx="726.1" cy="451.4" r="4.1"/><circle cx="700.9" cy="457.3" r="4.1"/><circle cx="708.3" cy="457.8" r="4.1"/><circle cx="701.2" cy="457.9" r="4.1"/><circle cx="708.3" cy="457.9" r="4.1"/><circle cx="726.3" cy="460.3" r="4.1"/><circle cx="707.8" cy="464.5" r="4.1"/><circle cx="705.9" cy="471.7" r="4.1"/><circle cx="709.7" cy="471.2" r="4.1"/><circle cx="714.5" cy="468.8" r="4.1"/><circle cx="719.7" cy="466.9" r="4.1"/><circle cx="725.8" cy="473.6" r="4.1"/><circle cx="696.9" cy="473.1" r="4.1"/><circle cx="694.5" cy="478.3" r="4.1"/><circle cx="719.7" cy="476.4" r="4.1"/><circle cx="702.6" cy="481.1" r="4.1"/><circle cx="703.1" cy="484.9" r="4.1"/><circle cx="697.4" cy="487.3" r="4.1"/><circle cx="696.9" cy="492.1" r="4.1"/><circle cx="711.6" cy="490.6" r="4.1"/><circle cx="716.4" cy="484.5" r="4.1"/><circle cx="718.3" cy="490.6" r="4.1"/><circle cx="725.8" cy="485.4" r="4.1"/><circle cx="728.7" cy="486.8" r="4.1"/><circle cx="705.0" cy="493.5" r="4.1"/><circle cx="701.2" cy="498.7" r="4.1"/><circle cx="714.5" cy="496.3" r="4.1"/><circle cx="704.0" cy="503.0" r="4.1"/><circle cx="710.7" cy="505.3" r="4.1"/><circle cx="719.7" cy="504.4" r="4.1"/><circle cx="695.5" cy="509.1" r="4.1"/><circle cx="711.6" cy="513.4" r="4.1"/><circle cx="707.8" cy="517.7" r="4.1"/><circle cx="718.3" cy="518.1" r="4.1"/><circle cx="717.8" cy="520.5" r="4.1"/><circle cx="696.9" cy="521.0" r="4.1"/><circle cx="709.2" cy="527.6" r="4.1"/><circle cx="706.4" cy="534.3" r="4.1"/><circle cx="713.5" cy="545.2" r="4.1"/><circle cx="715.4" cy="544.7" r="4.1"/><circle cx="710.2" cy="551.4" r="4.1"/><circle cx="719.7" cy="551.4" r="4.1"/><circle cx="696.4" cy="563.7" r="4.1"/><circle cx="705.0" cy="581.2" r="4.1"/>
</g>
<g class="pb">
<circle cx="1061.8" cy="446.1" r="4.1"/><circle cx="1045.5" cy="535.4" r="4.1"/><circle cx="1054.3" cy="469.1" r="4.1"/><circle cx="1049.6" cy="418.9" r="4.1"/><circle cx="1061.4" cy="471.4" r="4.1"/><circle cx="1050.8" cy="476.1" r="4.1"/><circle cx="1060.5" cy="466.3" r="4.1"/><circle cx="1053.0" cy="505.6" r="4.1"/><circle cx="1069.0" cy="423.2" r="4.1"/><circle cx="1057.8" cy="465.8" r="4.1"/><circle cx="1066.1" cy="463.2" r="4.1"/><circle cx="1072.0" cy="473.1" r="4.1"/><circle cx="1063.5" cy="412.7" r="4.1"/><circle cx="1061.8" cy="454.3" r="4.1"/><circle cx="1046.8" cy="409.2" r="4.1"/><circle cx="1063.1" cy="519.4" r="4.1"/><circle cx="1064.9" cy="467.4" r="4.1"/><circle cx="1042.4" cy="510.2" r="4.1"/><circle cx="1051.4" cy="502.8" r="4.1"/><circle cx="1053.0" cy="466.0" r="4.1"/><circle cx="1055.6" cy="469.8" r="4.1"/><circle cx="1059.2" cy="352.4" r="4.1"/><circle cx="1053.8" cy="355.3" r="4.1"/><circle cx="1070.4" cy="349.4" r="4.1"/><circle cx="1066.5" cy="366.2" r="4.1"/><circle cx="1062.5" cy="404.9" r="4.1"/><circle cx="1057.1" cy="408.3" r="4.1"/><circle cx="1060.2" cy="412.3" r="4.1"/><circle cx="1049.3" cy="410.8" r="4.1"/><circle cx="1048.3" cy="413.8" r="4.1"/><circle cx="1047.9" cy="418.2" r="4.1"/><circle cx="1066.7" cy="421.7" r="4.1"/><circle cx="1073.1" cy="420.7" r="4.1"/><circle cx="1042.9" cy="427.1" r="4.1"/><circle cx="1046.9" cy="430.6" r="4.1"/><circle cx="1053.8" cy="429.1" r="4.1"/><circle cx="1053.3" cy="435.0" r="4.1"/><circle cx="1043.7" cy="438.0" r="4.1"/><circle cx="1066.2" cy="431.1" r="4.1"/><circle cx="1071.1" cy="434.1" r="4.1"/><circle cx="1042.4" cy="448.4" r="4.1"/><circle cx="1047.9" cy="451.4" r="4.1"/><circle cx="1055.3" cy="444.5" r="4.1"/><circle cx="1052.3" cy="448.4" r="4.1"/><circle cx="1053.3" cy="453.9" r="4.1"/><circle cx="1061.2" cy="446.9" r="4.1"/><circle cx="1060.2" cy="450.4" r="4.1"/><circle cx="1058.7" cy="455.8" r="4.1"/><circle cx="1044.4" cy="457.3" r="4.1"/><circle cx="1042.9" cy="463.8" r="4.1"/><circle cx="1071.9" cy="458.8" r="4.1"/><circle cx="1052.3" cy="466.7" r="4.1"/><circle cx="1056.8" cy="467.2" r="4.1"/><circle cx="1061.2" cy="468.2" r="4.1"/><circle cx="1070.1" cy="468.2" r="4.1"/><circle cx="1042.4" cy="476.5" r="4.1"/><circle cx="1052.4" cy="473.3" r="4.1"/><circle cx="1054.5" cy="478.6" r="4.1"/><circle cx="1063.4" cy="478.1" r="4.1"/><circle cx="1069.7" cy="474.4" r="4.1"/><circle cx="1073.9" cy="478.1" r="4.1"/><circle cx="1042.4" cy="487.0" r="4.1"/><circle cx="1048.7" cy="488.0" r="4.1"/><circle cx="1054.5" cy="482.8" r="4.1"/><circle cx="1059.7" cy="487.5" r="4.1"/><circle cx="1069.2" cy="487.0" r="4.1"/><circle cx="1047.7" cy="495.4" r="4.1"/><circle cx="1046.6" cy="501.6" r="4.1"/><circle cx="1056.1" cy="500.6" r="4.1"/><circle cx="1063.9" cy="500.1" r="4.1"/><circle cx="1071.3" cy="498.5" r="4.1"/><circle cx="1048.2" cy="506.4" r="4.1"/><circle cx="1055.0" cy="507.9" r="4.1"/><circle cx="1066.5" cy="507.9" r="4.1"/><circle cx="1071.3" cy="510.0" r="4.1"/><circle cx="1043.5" cy="512.1" r="4.1"/><circle cx="1045.1" cy="518.4" r="4.1"/><circle cx="1054.0" cy="520.0" r="4.1"/><circle cx="1059.7" cy="518.9" r="4.1"/><circle cx="1061.8" cy="513.2" r="4.1"/><circle cx="1074.4" cy="517.4" r="4.1"/><circle cx="1066.5" cy="523.7" r="4.1"/><circle cx="1065.5" cy="528.9" r="4.1"/><circle cx="1073.9" cy="530.5" r="4.1"/><circle cx="1042.4" cy="539.4" r="4.1"/><circle cx="1049.2" cy="539.4" r="4.1"/><circle cx="1069.7" cy="538.3" r="4.1"/><circle cx="1071.3" cy="541.5" r="4.1"/><circle cx="1063.9" cy="545.1" r="4.1"/><circle cx="1065.5" cy="546.2" r="4.1"/><circle cx="1046.6" cy="552.0" r="4.1"/><circle cx="1051.9" cy="556.1" r="4.1"/><circle cx="1063.9" cy="558.8" r="4.1"/><circle cx="1057.1" cy="563.5" r="4.1"/><circle cx="1052.9" cy="567.2" r="4.1"/><circle cx="1071.8" cy="568.2" r="4.1"/><circle cx="1071.8" cy="576.1" r="4.1"/><circle cx="1044.0" cy="575.5" r="4.1"/><circle cx="1047.2" cy="584.4" r="4.1"/><circle cx="1074.9" cy="585.0" r="4.1"/><circle cx="1042.4" cy="592.8" r="4.1"/><circle cx="1069.2" cy="594.9" r="4.1"/><circle cx="1054.0" cy="607.5" r="4.1"/><circle cx="1058.2" cy="468.6" r="4.1"/><circle cx="1064.4" cy="468.1" r="4.1"/><circle cx="1069.7" cy="468.6" r="4.1"/><circle cx="1043.0" cy="467.0" r="4.1"/><circle cx="1051.3" cy="468.1" r="4.1"/>
</g>
<g class="pp">
<circle cx="1273.0" cy="500.9" r="4.1"/><circle cx="1290.8" cy="535.8" r="4.1"/><circle cx="1290.0" cy="520.8" r="4.1"/><circle cx="1265.5" cy="494.1" r="4.1"/><circle cx="1281.6" cy="388.8" r="4.1"/><circle cx="1295.5" cy="529.3" r="4.1"/><circle cx="1280.7" cy="508.5" r="4.1"/><circle cx="1286.1" cy="431.5" r="4.1"/><circle cx="1273.8" cy="447.4" r="4.1"/><circle cx="1274.2" cy="477.3" r="4.1"/><circle cx="1293.6" cy="507.8" r="4.1"/><circle cx="1282.1" cy="410.0" r="4.1"/><circle cx="1271.4" cy="476.4" r="4.1"/><circle cx="1278.8" cy="452.9" r="4.1"/><circle cx="1295.5" cy="475.8" r="4.1"/><circle cx="1267.4" cy="500.0" r="4.1"/><circle cx="1289.7" cy="525.0" r="4.1"/><circle cx="1292.3" cy="401.8" r="4.1"/><circle cx="1280.0" cy="460.9" r="4.1"/><circle cx="1266.7" cy="505.4" r="4.1"/><circle cx="1286.7" cy="541.9" r="4.1"/><circle cx="1283.3" cy="387.7" r="4.1"/><circle cx="1292.8" cy="529.4" r="4.1"/><circle cx="1273.2" cy="389.7" r="4.1"/><circle cx="1273.1" cy="452.8" r="4.1"/><circle cx="1264.1" cy="252.5" r="4.1"/><circle cx="1280.0" cy="291.3" r="4.1"/><circle cx="1293.7" cy="319.1" r="4.1"/><circle cx="1270.5" cy="325.1" r="4.1"/><circle cx="1266.9" cy="332.5" r="4.1"/><circle cx="1284.7" cy="343.2" r="4.1"/><circle cx="1285.6" cy="350.1" r="4.1"/><circle cx="1290.2" cy="356.4" r="4.1"/><circle cx="1295.1" cy="364.6" r="4.1"/><circle cx="1276.7" cy="355.3" r="4.1"/><circle cx="1274.0" cy="381.9" r="4.1"/><circle cx="1291.3" cy="383.8" r="4.1"/><circle cx="1295.5" cy="389.3" r="4.1"/><circle cx="1278.0" cy="390.2" r="4.1"/><circle cx="1284.0" cy="392.5" r="4.1"/><circle cx="1295.2" cy="389.5" r="4.1"/><circle cx="1278.7" cy="397.7" r="4.1"/><circle cx="1287.7" cy="399.2" r="4.1"/><circle cx="1263.0" cy="413.5" r="4.1"/><circle cx="1284.7" cy="414.2" r="4.1"/><circle cx="1293.7" cy="415.0" r="4.1"/><circle cx="1280.2" cy="418.0" r="4.1"/><circle cx="1274.2" cy="423.2" r="4.1"/><circle cx="1265.2" cy="430.0" r="4.1"/><circle cx="1270.5" cy="431.5" r="4.1"/><circle cx="1281.7" cy="430.7" r="4.1"/><circle cx="1286.2" cy="428.5" r="4.1"/><circle cx="1293.7" cy="426.2" r="4.1"/><circle cx="1288.5" cy="438.2" r="4.1"/><circle cx="1284.7" cy="440.5" r="4.1"/><circle cx="1295.2" cy="444.2" r="4.1"/><circle cx="1273.5" cy="448.7" r="4.1"/><circle cx="1278.7" cy="449.4" r="4.1"/><circle cx="1269.0" cy="454.7" r="4.1"/><circle cx="1281.7" cy="456.2" r="4.1"/><circle cx="1284.7" cy="452.4" r="4.1"/><circle cx="1272.7" cy="460.7" r="4.1"/><circle cx="1283.2" cy="462.2" r="4.1"/><circle cx="1292.2" cy="465.9" r="4.1"/><circle cx="1269.0" cy="467.4" r="4.1"/><circle cx="1272.0" cy="470.4" r="4.1"/><circle cx="1264.5" cy="475.7" r="4.1"/><circle cx="1274.2" cy="473.4" r="4.1"/><circle cx="1270.5" cy="479.4" r="4.1"/><circle cx="1281.0" cy="480.2" r="4.1"/><circle cx="1285.5" cy="478.7" r="4.1"/><circle cx="1292.2" cy="473.4" r="4.1"/><circle cx="1293.7" cy="481.7" r="4.1"/><circle cx="1292.2" cy="486.9" r="4.1"/><circle cx="1269.7" cy="489.9" r="4.1"/><circle cx="1274.2" cy="492.9" r="4.1"/><circle cx="1281.0" cy="494.4" r="4.1"/><circle cx="1268.2" cy="497.4" r="4.1"/><circle cx="1265.2" cy="501.9" r="4.1"/><circle cx="1272.0" cy="504.1" r="4.1"/><circle cx="1276.5" cy="502.6" r="4.1"/><circle cx="1290.7" cy="505.6" r="4.1"/><circle cx="1293.7" cy="504.1" r="4.1"/><circle cx="1263.0" cy="513.9" r="4.1"/><circle cx="1265.2" cy="512.4" r="4.1"/><circle cx="1272.0" cy="517.6" r="4.1"/><circle cx="1277.2" cy="512.4" r="4.1"/><circle cx="1280.2" cy="514.6" r="4.1"/><circle cx="1267.5" cy="528.1" r="4.1"/><circle cx="1278.7" cy="526.6" r="4.1"/><circle cx="1281.7" cy="529.6" r="4.1"/><circle cx="1287.7" cy="522.9" r="4.1"/><circle cx="1294.5" cy="519.9" r="4.1"/><circle cx="1290.7" cy="525.9" r="4.1"/><circle cx="1294.5" cy="532.6" r="4.1"/><circle cx="1285.5" cy="535.6" r="4.1"/><circle cx="1290.0" cy="538.6" r="4.1"/><circle cx="1265.2" cy="540.9" r="4.1"/><circle cx="1293.0" cy="543.1" r="4.1"/><circle cx="1287.0" cy="546.8" r="4.1"/><circle cx="1291.5" cy="552.1" r="4.1"/><circle cx="1275.0" cy="549.8" r="4.1"/><circle cx="1264.5" cy="560.3" r="4.1"/><circle cx="1273.5" cy="562.6" r="4.1"/><circle cx="1281.0" cy="561.8" r="4.1"/><circle cx="1284.7" cy="560.3" r="4.1"/><circle cx="1290.0" cy="558.1" r="4.1"/><circle cx="1278.0" cy="594.8" r="4.1"/>
</g>
<g class="pp">
<circle cx="1493.9" cy="491.9" r="4.1"/><circle cx="1492.0" cy="357.6" r="4.1"/><circle cx="1496.9" cy="493.5" r="4.1"/><circle cx="1490.6" cy="499.6" r="4.1"/><circle cx="1502.3" cy="481.2" r="4.1"/><circle cx="1490.9" cy="489.8" r="4.1"/><circle cx="1492.5" cy="440.5" r="4.1"/><circle cx="1486.5" cy="502.2" r="4.1"/><circle cx="1491.8" cy="467.6" r="4.1"/><circle cx="1489.2" cy="495.8" r="4.1"/><circle cx="1487.6" cy="348.7" r="4.1"/><circle cx="1486.1" cy="349.4" r="4.1"/><circle cx="1512.0" cy="507.5" r="4.1"/><circle cx="1502.7" cy="534.8" r="4.1"/><circle cx="1506.3" cy="465.6" r="4.1"/><circle cx="1493.3" cy="360.2" r="4.1"/><circle cx="1495.2" cy="495.2" r="4.1"/><circle cx="1498.1" cy="303.9" r="4.1"/><circle cx="1489.0" cy="494.3" r="4.1"/><circle cx="1504.4" cy="529.4" r="4.1"/><circle cx="1484.3" cy="394.8" r="4.1"/><circle cx="1491.2" cy="355.0" r="4.1"/><circle cx="1489.5" cy="358.7" r="4.1"/><circle cx="1496.6" cy="166.8" r="4.1"/><circle cx="1502.5" cy="166.8" r="4.1"/><circle cx="1508.8" cy="213.4" r="4.1"/><circle cx="1497.7" cy="220.5" r="4.1"/><circle cx="1506.2" cy="254.6" r="4.1"/><circle cx="1514.2" cy="259.7" r="4.1"/><circle cx="1507.1" cy="265.2" r="4.1"/><circle cx="1496.0" cy="297.4" r="4.1"/><circle cx="1499.4" cy="300.8" r="4.1"/><circle cx="1502.0" cy="299.9" r="4.1"/><circle cx="1517.2" cy="307.2" r="4.1"/><circle cx="1491.0" cy="333.8" r="4.1"/><circle cx="1498.1" cy="335.0" r="4.1"/><circle cx="1505.4" cy="339.4" r="4.1"/><circle cx="1487.2" cy="346.2" r="4.1"/><circle cx="1493.0" cy="350.8" r="4.1"/><circle cx="1487.2" cy="354.2" r="4.1"/><circle cx="1496.9" cy="356.4" r="4.1"/><circle cx="1506.2" cy="352.5" r="4.1"/><circle cx="1490.6" cy="361.8" r="4.1"/><circle cx="1484.5" cy="366.6" r="4.1"/><circle cx="1514.7" cy="364.9" r="4.1"/><circle cx="1489.6" cy="372.9" r="4.1"/><circle cx="1507.9" cy="376.8" r="4.1"/><circle cx="1505.4" cy="380.5" r="4.1"/><circle cx="1491.8" cy="383.5" r="4.1"/><circle cx="1492.4" cy="384.8" r="4.1"/><circle cx="1486.8" cy="392.8" r="4.1"/><circle cx="1494.8" cy="391.2" r="4.1"/><circle cx="1506.0" cy="392.0" r="4.1"/><circle cx="1497.2" cy="401.6" r="4.1"/><circle cx="1506.0" cy="399.2" r="4.1"/><circle cx="1510.0" cy="402.4" r="4.1"/><circle cx="1489.2" cy="408.0" r="4.1"/><circle cx="1490.0" cy="413.6" r="4.1"/><circle cx="1497.2" cy="416.8" r="4.1"/><circle cx="1500.4" cy="414.4" r="4.1"/><circle cx="1513.2" cy="412.8" r="4.1"/><circle cx="1484.9" cy="430.4" r="4.1"/><circle cx="1500.4" cy="428.5" r="4.1"/><circle cx="1489.2" cy="436.8" r="4.1"/><circle cx="1494.8" cy="439.2" r="4.1"/><circle cx="1496.4" cy="442.4" r="4.1"/><circle cx="1502.8" cy="440.8" r="4.1"/><circle cx="1505.2" cy="445.6" r="4.1"/><circle cx="1508.4" cy="448.8" r="4.1"/><circle cx="1511.6" cy="449.6" r="4.1"/><circle cx="1507.6" cy="454.4" r="4.1"/><circle cx="1489.2" cy="452.8" r="4.1"/><circle cx="1494.0" cy="454.4" r="4.1"/><circle cx="1485.2" cy="468.0" r="4.1"/><circle cx="1492.4" cy="471.2" r="4.1"/><circle cx="1502.8" cy="465.6" r="4.1"/><circle cx="1510.8" cy="464.0" r="4.1"/><circle cx="1517.2" cy="464.8" r="4.1"/><circle cx="1503.6" cy="471.2" r="4.1"/><circle cx="1495.6" cy="479.2" r="4.1"/><circle cx="1500.4" cy="476.8" r="4.1"/><circle cx="1508.4" cy="483.2" r="4.1"/><circle cx="1514.8" cy="479.2" r="4.1"/><circle cx="1488.4" cy="487.2" r="4.1"/><circle cx="1494.8" cy="488.0" r="4.1"/><circle cx="1491.6" cy="493.6" r="4.1"/><circle cx="1483.6" cy="494.4" r="4.1"/><circle cx="1486.0" cy="497.6" r="4.1"/><circle cx="1490.0" cy="503.2" r="4.1"/><circle cx="1493.2" cy="507.2" r="4.1"/><circle cx="1498.8" cy="499.2" r="4.1"/><circle cx="1506.8" cy="494.4" r="4.1"/><circle cx="1506.0" cy="500.0" r="4.1"/><circle cx="1510.0" cy="505.6" r="4.1"/><circle cx="1514.8" cy="490.9" r="4.1"/><circle cx="1497.2" cy="515.2" r="4.1"/><circle cx="1501.2" cy="520.8" r="4.1"/><circle cx="1506.8" cy="513.6" r="4.1"/><circle cx="1513.2" cy="518.1" r="4.1"/><circle cx="1487.6" cy="524.0" r="4.1"/><circle cx="1498.0" cy="528.0" r="4.1"/><circle cx="1500.4" cy="532.8" r="4.1"/><circle cx="1509.2" cy="533.6" r="4.1"/><circle cx="1507.6" cy="547.2" r="4.1"/><circle cx="1484.9" cy="553.3" r="4.1"/><circle cx="1499.3" cy="553.3" r="4.1"/><circle cx="1486.0" cy="581.6" r="4.1"/><circle cx="1502.5" cy="601.3" r="4.1"/>
</g>
<g class="pb">
<circle cx="265.4" cy="1109.7" r="4.1"/><circle cx="242.8" cy="1098.1" r="4.1"/><circle cx="260.8" cy="1102.6" r="4.1"/><circle cx="270.6" cy="1093.7" r="4.1"/><circle cx="262.7" cy="1100.9" r="4.1"/><circle cx="272.9" cy="1190.7" r="4.1"/><circle cx="270.9" cy="1195.7" r="4.1"/><circle cx="265.9" cy="1104.2" r="4.1"/><circle cx="258.9" cy="1097.7" r="4.1"/><circle cx="264.1" cy="1099.8" r="4.1"/><circle cx="264.6" cy="1155.5" r="4.1"/><circle cx="276.2" cy="1142.2" r="4.1"/><circle cx="260.8" cy="1154.4" r="4.1"/><circle cx="253.0" cy="1164.3" r="4.1"/><circle cx="266.0" cy="963.8" r="4.1"/><circle cx="270.8" cy="1000.5" r="4.1"/><circle cx="253.2" cy="1022.5" r="4.1"/><circle cx="262.7" cy="1021.7" r="4.1"/><circle cx="255.7" cy="1030.2" r="4.1"/><circle cx="256.5" cy="1034.0" r="4.1"/><circle cx="273.7" cy="1033.1" r="4.1"/><circle cx="272.9" cy="1036.7" r="4.1"/><circle cx="258.7" cy="1042.8" r="4.1"/><circle cx="260.3" cy="1048.3" r="4.1"/><circle cx="245.5" cy="1050.4" r="4.1"/><circle cx="244.4" cy="1055.4" r="4.1"/><circle cx="265.8" cy="1063.6" r="4.1"/><circle cx="273.7" cy="1069.1" r="4.1"/><circle cx="242.8" cy="1075.7" r="4.1"/><circle cx="249.9" cy="1073.3" r="4.1"/><circle cx="258.1" cy="1074.4" r="4.1"/><circle cx="267.5" cy="1074.6" r="4.1"/><circle cx="266.9" cy="1078.4" r="4.1"/><circle cx="250.2" cy="1080.6" r="4.1"/><circle cx="253.5" cy="1083.4" r="4.1"/><circle cx="246.1" cy="1087.5" r="4.1"/><circle cx="243.3" cy="1096.5" r="4.1"/><circle cx="263.1" cy="1091.0" r="4.1"/><circle cx="267.1" cy="1093.5" r="4.1"/><circle cx="274.0" cy="1091.0" r="4.1"/><circle cx="254.8" cy="1097.6" r="4.1"/><circle cx="260.9" cy="1098.7" r="4.1"/><circle cx="269.1" cy="1098.7" r="4.1"/><circle cx="243.4" cy="1098.6" r="4.1"/><circle cx="254.2" cy="1099.3" r="4.1"/><circle cx="261.1" cy="1099.3" r="4.1"/><circle cx="269.3" cy="1098.6" r="4.1"/><circle cx="246.6" cy="1105.6" r="4.1"/><circle cx="247.9" cy="1109.3" r="4.1"/><circle cx="245.3" cy="1112.5" r="4.1"/><circle cx="251.0" cy="1113.7" r="4.1"/><circle cx="257.9" cy="1111.2" r="4.1"/><circle cx="263.6" cy="1105.6" r="4.1"/><circle cx="269.9" cy="1103.7" r="4.1"/><circle cx="273.7" cy="1111.9" r="4.1"/><circle cx="270.5" cy="1116.9" r="4.1"/><circle cx="247.9" cy="1121.3" r="4.1"/><circle cx="252.3" cy="1124.4" r="4.1"/><circle cx="256.7" cy="1126.3" r="4.1"/><circle cx="261.7" cy="1126.3" r="4.1"/><circle cx="243.4" cy="1131.4" r="4.1"/><circle cx="254.2" cy="1130.1" r="4.1"/><circle cx="258.6" cy="1131.4" r="4.1"/><circle cx="266.7" cy="1133.3" r="4.1"/><circle cx="275.6" cy="1128.2" r="4.1"/><circle cx="274.9" cy="1137.0" r="4.1"/><circle cx="247.2" cy="1135.8" r="4.1"/><circle cx="251.6" cy="1140.8" r="4.1"/><circle cx="260.4" cy="1138.3" r="4.1"/><circle cx="264.9" cy="1143.3" r="4.1"/><circle cx="274.3" cy="1145.9" r="4.1"/><circle cx="268.0" cy="1150.3" r="4.1"/><circle cx="256.0" cy="1153.4" r="4.1"/><circle cx="261.7" cy="1151.5" r="4.1"/><circle cx="247.9" cy="1159.1" r="4.1"/><circle cx="250.4" cy="1159.7" r="4.1"/><circle cx="262.3" cy="1159.7" r="4.1"/><circle cx="269.9" cy="1162.9" r="4.1"/><circle cx="273.0" cy="1161.6" r="4.1"/><circle cx="276.2" cy="1166.0" r="4.1"/><circle cx="264.9" cy="1166.6" r="4.1"/><circle cx="246.6" cy="1170.4" r="4.1"/><circle cx="254.8" cy="1169.2" r="4.1"/><circle cx="260.4" cy="1171.7" r="4.1"/><circle cx="265.5" cy="1172.3" r="4.1"/><circle cx="275.6" cy="1170.4" r="4.1"/><circle cx="245.3" cy="1178.0" r="4.1"/><circle cx="253.5" cy="1180.5" r="4.1"/><circle cx="257.3" cy="1178.0" r="4.1"/><circle cx="261.1" cy="1183.6" r="4.1"/><circle cx="265.5" cy="1183.6" r="4.1"/><circle cx="271.2" cy="1184.9" r="4.1"/><circle cx="247.2" cy="1186.8" r="4.1"/><circle cx="264.2" cy="1188.1" r="4.1"/><circle cx="269.9" cy="1191.8" r="4.1"/><circle cx="243.4" cy="1196.2" r="4.1"/><circle cx="246.6" cy="1195.6" r="4.1"/><circle cx="264.9" cy="1201.3" r="4.1"/><circle cx="271.2" cy="1198.1" r="4.1"/><circle cx="243.4" cy="1206.9" r="4.1"/><circle cx="264.2" cy="1211.4" r="4.1"/><circle cx="275.6" cy="1221.4" r="4.1"/><circle cx="266.7" cy="1232.8" r="4.1"/><circle cx="255.4" cy="1235.3" r="4.1"/><circle cx="247.2" cy="1240.3" r="4.1"/><circle cx="252.3" cy="1241.6" r="4.1"/><circle cx="276.2" cy="1255.4" r="4.1"/><circle cx="273.3" cy="1266.1" r="4.1"/>
</g>
<g class="pp">
<circle cx="481.7" cy="1107.4" r="4.1"/><circle cx="476.8" cy="1078.8" r="4.1"/><circle cx="489.6" cy="1172.9" r="4.1"/><circle cx="472.6" cy="1075.6" r="4.1"/><circle cx="495.5" cy="1104.4" r="4.1"/><circle cx="485.9" cy="1077.4" r="4.1"/><circle cx="477.2" cy="1078.6" r="4.1"/><circle cx="498.4" cy="1088.4" r="4.1"/><circle cx="496.5" cy="1110.9" r="4.1"/><circle cx="476.9" cy="1088.7" r="4.1"/><circle cx="485.3" cy="1087.6" r="4.1"/><circle cx="482.8" cy="1094.7" r="4.1"/><circle cx="466.3" cy="1050.6" r="4.1"/><circle cx="497.1" cy="1093.6" r="4.1"/><circle cx="489.3" cy="1086.4" r="4.1"/><circle cx="475.0" cy="1080.4" r="4.1"/><circle cx="486.5" cy="1108.7" r="4.1"/><circle cx="477.2" cy="1082.8" r="4.1"/><circle cx="489.5" cy="1102.6" r="4.1"/><circle cx="484.0" cy="1099.4" r="4.1"/><circle cx="483.1" cy="1083.1" r="4.1"/><circle cx="483.0" cy="1094.6" r="4.1"/><circle cx="493.8" cy="921.4" r="4.1"/><circle cx="468.0" cy="937.9" r="4.1"/><circle cx="469.4" cy="984.1" r="4.1"/><circle cx="494.1" cy="1003.9" r="4.1"/><circle cx="484.5" cy="1014.0" r="4.1"/><circle cx="482.6" cy="1022.5" r="4.1"/><circle cx="486.3" cy="1024.9" r="4.1"/><circle cx="495.4" cy="1020.5" r="4.1"/><circle cx="483.5" cy="1030.4" r="4.1"/><circle cx="494.6" cy="1029.2" r="4.1"/><circle cx="497.5" cy="1033.2" r="4.1"/><circle cx="472.1" cy="1032.0" r="4.1"/><circle cx="467.8" cy="1034.5" r="4.1"/><circle cx="478.0" cy="1043.8" r="4.1"/><circle cx="492.2" cy="1043.8" r="4.1"/><circle cx="469.9" cy="1049.3" r="4.1"/><circle cx="469.9" cy="1054.3" r="4.1"/><circle cx="492.5" cy="1053.0" r="4.1"/><circle cx="466.5" cy="1062.3" r="4.1"/><circle cx="474.8" cy="1062.3" r="4.1"/><circle cx="489.7" cy="1062.3" r="4.1"/><circle cx="496.2" cy="1059.6" r="4.1"/><circle cx="474.6" cy="1067.9" r="4.1"/><circle cx="471.5" cy="1077.8" r="4.1"/><circle cx="474.6" cy="1076.0" r="4.1"/><circle cx="489.4" cy="1075.3" r="4.1"/><circle cx="479.5" cy="1079.0" r="4.1"/><circle cx="487.6" cy="1081.5" r="4.1"/><circle cx="471.2" cy="1080.0" r="4.1"/><circle cx="478.8" cy="1081.4" r="4.1"/><circle cx="487.7" cy="1082.1" r="4.1"/><circle cx="491.9" cy="1084.1" r="4.1"/><circle cx="469.8" cy="1090.3" r="4.1"/><circle cx="480.8" cy="1086.2" r="4.1"/><circle cx="485.7" cy="1090.3" r="4.1"/><circle cx="493.2" cy="1091.7" r="4.1"/><circle cx="498.1" cy="1091.0" r="4.1"/><circle cx="487.7" cy="1096.6" r="4.1"/><circle cx="470.5" cy="1105.5" r="4.1"/><circle cx="476.7" cy="1102.8" r="4.1"/><circle cx="484.3" cy="1102.8" r="4.1"/><circle cx="491.9" cy="1102.1" r="4.1"/><circle cx="491.9" cy="1105.5" r="4.1"/><circle cx="471.9" cy="1108.3" r="4.1"/><circle cx="467.0" cy="1115.2" r="4.1"/><circle cx="487.0" cy="1111.7" r="4.1"/><circle cx="491.2" cy="1110.3" r="4.1"/><circle cx="498.1" cy="1111.0" r="4.1"/><circle cx="498.8" cy="1115.2" r="4.1"/><circle cx="491.9" cy="1120.7" r="4.1"/><circle cx="473.9" cy="1126.2" r="4.1"/><circle cx="481.5" cy="1124.8" r="4.1"/><circle cx="469.8" cy="1131.0" r="4.1"/><circle cx="478.8" cy="1134.5" r="4.1"/><circle cx="489.8" cy="1129.0" r="4.1"/><circle cx="496.0" cy="1125.5" r="4.1"/><circle cx="482.9" cy="1137.9" r="4.1"/><circle cx="493.9" cy="1137.9" r="4.1"/><circle cx="497.4" cy="1140.7" r="4.1"/><circle cx="476.7" cy="1143.4" r="4.1"/><circle cx="476.7" cy="1146.9" r="4.1"/><circle cx="483.6" cy="1146.2" r="4.1"/><circle cx="466.3" cy="1153.8" r="4.1"/><circle cx="466.3" cy="1160.7" r="4.1"/><circle cx="471.2" cy="1160.0" r="4.1"/><circle cx="483.6" cy="1156.6" r="4.1"/><circle cx="478.1" cy="1161.4" r="4.1"/><circle cx="475.3" cy="1165.5" r="4.1"/><circle cx="488.4" cy="1160.7" r="4.1"/><circle cx="493.9" cy="1161.4" r="4.1"/><circle cx="498.8" cy="1152.4" r="4.1"/><circle cx="499.4" cy="1160.7" r="4.1"/><circle cx="498.1" cy="1165.5" r="4.1"/><circle cx="478.1" cy="1171.7" r="4.1"/><circle cx="493.9" cy="1175.2" r="4.1"/><circle cx="498.1" cy="1174.5" r="4.1"/><circle cx="493.2" cy="1178.6" r="4.1"/><circle cx="480.1" cy="1182.8" r="4.1"/><circle cx="491.2" cy="1186.2" r="4.1"/><circle cx="467.7" cy="1195.6" r="4.1"/><circle cx="490.8" cy="1198.6" r="4.1"/><circle cx="471.4" cy="1213.8" r="4.1"/><circle cx="466.3" cy="1215.9" r="4.1"/><circle cx="474.6" cy="1233.1" r="4.1"/><circle cx="498.1" cy="1235.2" r="4.1"/><circle cx="467.0" cy="1266.5" r="4.1"/>
</g>
<g class="pp">
<circle cx="693.1" cy="1213.0" r="4.1"/><circle cx="697.8" cy="1215.7" r="4.1"/><circle cx="693.1" cy="1213.7" r="4.1"/><circle cx="693.0" cy="1225.5" r="4.1"/><circle cx="700.1" cy="1230.8" r="4.1"/><circle cx="717.9" cy="1204.5" r="4.1"/><circle cx="693.7" cy="1280.1" r="4.1"/><circle cx="687.3" cy="1214.4" r="4.1"/><circle cx="696.7" cy="1247.8" r="4.1"/><circle cx="694.5" cy="1245.6" r="4.1"/><circle cx="702.0" cy="1176.6" r="4.1"/><circle cx="695.3" cy="1225.5" r="4.1"/><circle cx="702.7" cy="1237.7" r="4.1"/><circle cx="687.3" cy="1243.9" r="4.1"/><circle cx="718.7" cy="1227.7" r="4.1"/><circle cx="708.7" cy="1231.7" r="4.1"/><circle cx="692.6" cy="1232.1" r="4.1"/><circle cx="703.3" cy="1172.5" r="4.1"/><circle cx="707.7" cy="1233.1" r="4.1"/><circle cx="700.0" cy="1204.6" r="4.1"/><circle cx="712.4" cy="1235.1" r="4.1"/><circle cx="717.7" cy="1203.9" r="4.1"/><circle cx="695.4" cy="1181.4" r="4.1"/><circle cx="709.3" cy="1237.1" r="4.1"/><circle cx="715.6" cy="1198.8" r="4.1"/><circle cx="708.4" cy="1246.8" r="4.1"/><circle cx="687.3" cy="1239.5" r="4.1"/><circle cx="700.3" cy="1205.5" r="4.1"/><circle cx="701.7" cy="1016.3" r="4.1"/><circle cx="711.9" cy="1014.9" r="4.1"/><circle cx="705.5" cy="1027.2" r="4.1"/><circle cx="709.6" cy="1032.1" r="4.1"/><circle cx="702.3" cy="1041.5" r="4.1"/><circle cx="712.2" cy="1049.4" r="4.1"/><circle cx="716.8" cy="1064.6" r="4.1"/><circle cx="712.8" cy="1092.9" r="4.1"/><circle cx="718.7" cy="1107.5" r="4.1"/><circle cx="710.5" cy="1115.4" r="4.1"/><circle cx="713.3" cy="1122.1" r="4.1"/><circle cx="687.9" cy="1128.9" r="4.1"/><circle cx="693.2" cy="1130.6" r="4.1"/><circle cx="699.6" cy="1130.6" r="4.1"/><circle cx="705.7" cy="1131.2" r="4.1"/><circle cx="689.1" cy="1138.5" r="4.1"/><circle cx="696.9" cy="1148.5" r="4.1"/><circle cx="702.8" cy="1151.1" r="4.1"/><circle cx="716.9" cy="1149.9" r="4.1"/><circle cx="720.7" cy="1150.5" r="4.1"/><circle cx="719.1" cy="1160.4" r="4.1"/><circle cx="699.7" cy="1163.1" r="4.1"/><circle cx="704.6" cy="1166.8" r="4.1"/><circle cx="718.9" cy="1161.2" r="4.1"/><circle cx="687.9" cy="1174.2" r="4.1"/><circle cx="704.6" cy="1175.5" r="4.1"/><circle cx="699.7" cy="1179.2" r="4.1"/><circle cx="714.5" cy="1174.9" r="4.1"/><circle cx="720.1" cy="1180.4" r="4.1"/><circle cx="693.5" cy="1187.2" r="4.1"/><circle cx="701.5" cy="1187.2" r="4.1"/><circle cx="714.5" cy="1184.8" r="4.1"/><circle cx="717.6" cy="1189.1" r="4.1"/><circle cx="719.5" cy="1192.2" r="4.1"/><circle cx="692.9" cy="1194.7" r="4.1"/><circle cx="689.8" cy="1200.9" r="4.1"/><circle cx="696.0" cy="1204.0" r="4.1"/><circle cx="700.9" cy="1200.3" r="4.1"/><circle cx="706.5" cy="1196.5" r="4.1"/><circle cx="710.8" cy="1199.0" r="4.1"/><circle cx="704.0" cy="1204.0" r="4.1"/><circle cx="718.9" cy="1200.9" r="4.1"/><circle cx="715.2" cy="1202.7" r="4.1"/><circle cx="705.2" cy="1208.9" r="4.1"/><circle cx="714.5" cy="1208.3" r="4.1"/><circle cx="690.4" cy="1213.3" r="4.1"/><circle cx="690.4" cy="1217.0" r="4.1"/><circle cx="698.4" cy="1213.9" r="4.1"/><circle cx="698.4" cy="1218.2" r="4.1"/><circle cx="706.5" cy="1220.7" r="4.1"/><circle cx="717.6" cy="1216.4" r="4.1"/><circle cx="694.1" cy="1221.9" r="4.1"/><circle cx="713.9" cy="1223.2" r="4.1"/><circle cx="717.6" cy="1224.4" r="4.1"/><circle cx="695.3" cy="1229.4" r="4.1"/><circle cx="702.8" cy="1229.4" r="4.1"/><circle cx="710.8" cy="1230.0" r="4.1"/><circle cx="700.3" cy="1233.1" r="4.1"/><circle cx="708.3" cy="1234.3" r="4.1"/><circle cx="691.0" cy="1235.6" r="4.1"/><circle cx="715.8" cy="1235.6" r="4.1"/><circle cx="687.3" cy="1243.0" r="4.1"/><circle cx="689.1" cy="1246.7" r="4.1"/><circle cx="694.1" cy="1242.4" r="4.1"/><circle cx="700.9" cy="1241.1" r="4.1"/><circle cx="705.9" cy="1243.0" r="4.1"/><circle cx="699.1" cy="1245.5" r="4.1"/><circle cx="720.7" cy="1240.5" r="4.1"/><circle cx="720.7" cy="1244.2" r="4.1"/><circle cx="710.8" cy="1250.4" r="4.1"/><circle cx="713.9" cy="1249.2" r="4.1"/><circle cx="715.2" cy="1255.4" r="4.1"/><circle cx="721.3" cy="1254.1" r="4.1"/><circle cx="720.7" cy="1264.7" r="4.1"/><circle cx="705.9" cy="1267.1" r="4.1"/><circle cx="702.2" cy="1269.6" r="4.1"/><circle cx="696.0" cy="1273.3" r="4.1"/><circle cx="696.0" cy="1277.0" r="4.1"/><circle cx="688.5" cy="1284.5" r="4.1"/><circle cx="713.9" cy="1326.6" r="4.1"/>
</g>
<g class="pb">
<circle cx="1061.4" cy="1218.2" r="4.1"/><circle cx="1064.7" cy="1215.7" r="4.1"/><circle cx="1074.9" cy="1238.5" r="4.1"/><circle cx="1084.1" cy="1204.8" r="4.1"/><circle cx="1079.1" cy="1145.1" r="4.1"/><circle cx="1083.3" cy="1218.7" r="4.1"/><circle cx="1083.6" cy="1301.1" r="4.1"/><circle cx="1072.4" cy="1318.6" r="4.1"/><circle cx="1067.4" cy="1317.4" r="4.1"/><circle cx="1071.7" cy="1304.4" r="4.1"/><circle cx="1083.3" cy="1213.2" r="4.1"/><circle cx="1060.3" cy="1208.4" r="4.1"/><circle cx="1057.5" cy="867.5" r="4.1"/><circle cx="1072.3" cy="938.3" r="4.1"/><circle cx="1064.8" cy="957.4" r="4.1"/><circle cx="1084.8" cy="978.6" r="4.1"/><circle cx="1081.9" cy="993.0" r="4.1"/><circle cx="1083.9" cy="1020.8" r="4.1"/><circle cx="1060.5" cy="1027.4" r="4.1"/><circle cx="1087.1" cy="1077.6" r="4.1"/><circle cx="1060.3" cy="1092.5" r="4.1"/><circle cx="1062.4" cy="1094.2" r="4.1"/><circle cx="1067.9" cy="1101.5" r="4.1"/><circle cx="1072.8" cy="1113.8" r="4.1"/><circle cx="1084.1" cy="1136.7" r="4.1"/><circle cx="1086.2" cy="1138.4" r="4.1"/><circle cx="1082.0" cy="1144.3" r="4.1"/><circle cx="1076.4" cy="1147.7" r="4.1"/><circle cx="1076.9" cy="1154.5" r="4.1"/><circle cx="1073.9" cy="1160.9" r="4.1"/><circle cx="1058.6" cy="1163.0" r="4.1"/><circle cx="1064.6" cy="1171.5" r="4.1"/><circle cx="1062.9" cy="1176.6" r="4.1"/><circle cx="1067.1" cy="1176.2" r="4.1"/><circle cx="1076.4" cy="1171.1" r="4.1"/><circle cx="1084.5" cy="1180.4" r="4.1"/><circle cx="1083.2" cy="1185.9" r="4.1"/><circle cx="1082.8" cy="1192.3" r="4.1"/><circle cx="1073.5" cy="1195.7" r="4.1"/><circle cx="1076.4" cy="1200.8" r="4.1"/><circle cx="1082.0" cy="1199.5" r="4.1"/><circle cx="1061.4" cy="1206.0" r="4.1"/><circle cx="1066.0" cy="1208.7" r="4.1"/><circle cx="1062.7" cy="1213.4" r="4.1"/><circle cx="1065.5" cy="1216.6" r="4.1"/><circle cx="1067.3" cy="1222.1" r="4.1"/><circle cx="1058.1" cy="1225.8" r="4.1"/><circle cx="1077.0" cy="1201.4" r="4.1"/><circle cx="1082.1" cy="1201.4" r="4.1"/><circle cx="1086.2" cy="1207.4" r="4.1"/><circle cx="1088.5" cy="1210.6" r="4.1"/><circle cx="1078.4" cy="1214.7" r="4.1"/><circle cx="1083.9" cy="1214.7" r="4.1"/><circle cx="1079.3" cy="1219.3" r="4.1"/><circle cx="1082.5" cy="1221.6" r="4.1"/><circle cx="1065.5" cy="1234.1" r="4.1"/><circle cx="1078.4" cy="1232.7" r="4.1"/><circle cx="1084.4" cy="1234.5" r="4.1"/><circle cx="1072.4" cy="1239.1" r="4.1"/><circle cx="1068.7" cy="1242.4" r="4.1"/><circle cx="1064.1" cy="1246.0" r="4.1"/><circle cx="1082.1" cy="1244.7" r="4.1"/><circle cx="1064.1" cy="1252.5" r="4.1"/><circle cx="1067.3" cy="1254.8" r="4.1"/><circle cx="1076.5" cy="1254.8" r="4.1"/><circle cx="1085.3" cy="1258.9" r="4.1"/><circle cx="1065.5" cy="1259.9" r="4.1"/><circle cx="1061.8" cy="1264.9" r="4.1"/><circle cx="1074.7" cy="1258.9" r="4.1"/><circle cx="1079.3" cy="1263.5" r="4.1"/><circle cx="1067.8" cy="1268.6" r="4.1"/><circle cx="1074.7" cy="1267.7" r="4.1"/><circle cx="1079.3" cy="1273.7" r="4.1"/><circle cx="1059.5" cy="1282.9" r="4.1"/><circle cx="1063.2" cy="1284.3" r="4.1"/><circle cx="1072.9" cy="1279.2" r="4.1"/><circle cx="1068.7" cy="1287.5" r="4.1"/><circle cx="1078.8" cy="1282.9" r="4.1"/><circle cx="1085.3" cy="1278.7" r="4.1"/><circle cx="1087.6" cy="1285.2" r="4.1"/><circle cx="1056.3" cy="1293.9" r="4.1"/><circle cx="1063.2" cy="1294.8" r="4.1"/><circle cx="1071.5" cy="1294.4" r="4.1"/><circle cx="1082.5" cy="1290.7" r="4.1"/><circle cx="1075.6" cy="1288.4" r="4.1"/><circle cx="1089.0" cy="1293.9" r="4.1"/><circle cx="1060.4" cy="1304.1" r="4.1"/><circle cx="1068.3" cy="1302.2" r="4.1"/><circle cx="1079.8" cy="1300.4" r="4.1"/><circle cx="1086.7" cy="1299.0" r="4.1"/><circle cx="1072.9" cy="1304.1" r="4.1"/><circle cx="1075.6" cy="1307.3" r="4.1"/><circle cx="1064.1" cy="1310.5" r="4.1"/><circle cx="1070.6" cy="1309.1" r="4.1"/><circle cx="1084.8" cy="1305.0" r="4.1"/><circle cx="1059.0" cy="1315.1" r="4.1"/><circle cx="1056.3" cy="1318.8" r="4.1"/><circle cx="1069.6" cy="1314.2" r="4.1"/><circle cx="1082.5" cy="1310.5" r="4.1"/><circle cx="1088.5" cy="1314.2" r="4.1"/><circle cx="1060.0" cy="1320.6" r="4.1"/><circle cx="1068.7" cy="1319.7" r="4.1"/><circle cx="1076.1" cy="1319.2" r="4.1"/><circle cx="1082.5" cy="1319.7" r="4.1"/><circle cx="1086.7" cy="1320.6" r="4.1"/><circle cx="1065.0" cy="1316.9" r="4.1"/><circle cx="1089.9" cy="1317.9" r="4.1"/><circle cx="1054.4" cy="1314.2" r="4.1"/>
</g>
<g class="pp">
<circle cx="1275.5" cy="1283.4" r="4.1"/><circle cx="1270.3" cy="1273.3" r="4.1"/><circle cx="1302.1" cy="1266.3" r="4.1"/><circle cx="1274.9" cy="1236.7" r="4.1"/><circle cx="1269.0" cy="1276.7" r="4.1"/><circle cx="1286.0" cy="1285.1" r="4.1"/><circle cx="1272.9" cy="1188.7" r="4.1"/><circle cx="1288.1" cy="1231.4" r="4.1"/><circle cx="1288.9" cy="1216.2" r="4.1"/><circle cx="1283.8" cy="1290.0" r="4.1"/><circle cx="1292.5" cy="1284.3" r="4.1"/><circle cx="1291.2" cy="1278.5" r="4.1"/><circle cx="1300.9" cy="1209.8" r="4.1"/><circle cx="1298.9" cy="1277.8" r="4.1"/><circle cx="1274.8" cy="1191.6" r="4.1"/><circle cx="1288.0" cy="1258.7" r="4.1"/><circle cx="1285.6" cy="1214.6" r="4.1"/><circle cx="1295.8" cy="1225.7" r="4.1"/><circle cx="1284.6" cy="1293.2" r="4.1"/><circle cx="1279.0" cy="1273.6" r="4.1"/><circle cx="1269.0" cy="1276.7" r="4.1"/><circle cx="1291.0" cy="1125.8" r="4.1"/><circle cx="1290.8" cy="1209.0" r="4.1"/><circle cx="1288.8" cy="867.2" r="4.1"/><circle cx="1279.4" cy="952.9" r="4.1"/><circle cx="1300.3" cy="1037.0" r="4.1"/><circle cx="1269.9" cy="1057.3" r="4.1"/><circle cx="1298.0" cy="1055.5" r="4.1"/><circle cx="1281.9" cy="1065.8" r="4.1"/><circle cx="1281.2" cy="1069.3" r="4.1"/><circle cx="1296.4" cy="1076.9" r="4.1"/><circle cx="1277.3" cy="1085.4" r="4.1"/><circle cx="1273.4" cy="1101.1" r="4.1"/><circle cx="1300.3" cy="1113.8" r="4.1"/><circle cx="1288.1" cy="1117.2" r="4.1"/><circle cx="1282.6" cy="1118.1" r="4.1"/><circle cx="1280.3" cy="1126.9" r="4.1"/><circle cx="1286.5" cy="1126.9" r="4.1"/><circle cx="1284.2" cy="1132.6" r="4.1"/><circle cx="1295.0" cy="1147.2" r="4.1"/><circle cx="1298.0" cy="1154.1" r="4.1"/><circle cx="1291.8" cy="1156.4" r="4.1"/><circle cx="1273.2" cy="1167.2" r="4.1"/><circle cx="1279.8" cy="1172.0" r="4.1"/><circle cx="1284.0" cy="1177.4" r="4.1"/><circle cx="1270.8" cy="1186.4" r="4.1"/><circle cx="1278.0" cy="1185.8" r="4.1"/><circle cx="1269.6" cy="1193.7" r="4.1"/><circle cx="1277.4" cy="1191.9" r="4.1"/><circle cx="1296.1" cy="1193.7" r="4.1"/><circle cx="1274.4" cy="1202.1" r="4.1"/><circle cx="1288.8" cy="1201.5" r="4.1"/><circle cx="1287.0" cy="1206.3" r="4.1"/><circle cx="1295.5" cy="1205.7" r="4.1"/><circle cx="1291.2" cy="1212.3" r="4.1"/><circle cx="1297.9" cy="1211.1" r="4.1"/><circle cx="1285.2" cy="1218.9" r="4.1"/><circle cx="1291.2" cy="1217.1" r="4.1"/><circle cx="1271.4" cy="1227.9" r="4.1"/><circle cx="1293.1" cy="1229.7" r="4.1"/><circle cx="1298.5" cy="1228.5" r="4.1"/><circle cx="1300.3" cy="1228.5" r="4.1"/><circle cx="1281.0" cy="1233.3" r="4.1"/><circle cx="1277.4" cy="1236.9" r="4.1"/><circle cx="1269.6" cy="1242.9" r="4.1"/><circle cx="1269.6" cy="1247.1" r="4.1"/><circle cx="1279.8" cy="1242.9" r="4.1"/><circle cx="1288.2" cy="1240.5" r="4.1"/><circle cx="1296.7" cy="1239.9" r="4.1"/><circle cx="1299.1" cy="1245.9" r="4.1"/><circle cx="1300.9" cy="1251.9" r="4.1"/><circle cx="1278.0" cy="1248.3" r="4.1"/><circle cx="1276.8" cy="1254.4" r="4.1"/><circle cx="1285.2" cy="1253.8" r="4.1"/><circle cx="1291.2" cy="1248.9" r="4.1"/><circle cx="1270.2" cy="1261.0" r="4.1"/><circle cx="1276.8" cy="1261.6" r="4.1"/><circle cx="1286.4" cy="1261.0" r="4.1"/><circle cx="1293.1" cy="1264.6" r="4.1"/><circle cx="1300.3" cy="1267.6" r="4.1"/><circle cx="1282.8" cy="1265.8" r="4.1"/><circle cx="1272.0" cy="1273.6" r="4.1"/><circle cx="1272.6" cy="1277.2" r="4.1"/><circle cx="1279.2" cy="1277.2" r="4.1"/><circle cx="1288.8" cy="1274.8" r="4.1"/><circle cx="1295.5" cy="1274.2" r="4.1"/><circle cx="1269.0" cy="1280.2" r="4.1"/><circle cx="1284.6" cy="1280.8" r="4.1"/><circle cx="1292.5" cy="1281.4" r="4.1"/><circle cx="1299.7" cy="1281.4" r="4.1"/><circle cx="1302.1" cy="1286.2" r="4.1"/><circle cx="1270.8" cy="1286.2" r="4.1"/><circle cx="1277.4" cy="1289.2" r="4.1"/><circle cx="1285.8" cy="1288.6" r="4.1"/><circle cx="1289.4" cy="1294.6" r="4.1"/><circle cx="1297.3" cy="1295.2" r="4.1"/><circle cx="1279.2" cy="1298.2" r="4.1"/><circle cx="1288.2" cy="1301.2" r="4.1"/><circle cx="1292.5" cy="1306.0" r="4.1"/><circle cx="1299.7" cy="1307.8" r="4.1"/><circle cx="1270.2" cy="1310.8" r="4.1"/><circle cx="1279.2" cy="1309.6" r="4.1"/><circle cx="1285.2" cy="1310.8" r="4.1"/><circle cx="1294.3" cy="1312.0" r="4.1"/><circle cx="1289.4" cy="1315.6" r="4.1"/><circle cx="1279.2" cy="1320.5" r="4.1"/><circle cx="1276.2" cy="1321.7" r="4.1"/><circle cx="1296.7" cy="1321.1" r="4.1"/>
</g>
<g class="pp">
<circle cx="1505.1" cy="1248.9" r="4.1"/><circle cx="1510.5" cy="1224.0" r="4.1"/><circle cx="1490.1" cy="1217.4" r="4.1"/><circle cx="1498.8" cy="1116.0" r="4.1"/><circle cx="1487.4" cy="1298.1" r="4.1"/><circle cx="1492.1" cy="1272.6" r="4.1"/><circle cx="1506.5" cy="1177.9" r="4.1"/><circle cx="1505.7" cy="1308.3" r="4.1"/><circle cx="1504.4" cy="1311.7" r="4.1"/><circle cx="1484.7" cy="1271.9" r="4.1"/><circle cx="1504.8" cy="1118.5" r="4.1"/><circle cx="1499.6" cy="867.5" r="4.1"/><circle cx="1485.3" cy="877.2" r="4.1"/><circle cx="1499.6" cy="906.6" r="4.1"/><circle cx="1489.6" cy="946.0" r="4.1"/><circle cx="1499.1" cy="952.1" r="4.1"/><circle cx="1510.4" cy="956.4" r="4.1"/><circle cx="1495.7" cy="962.5" r="4.1"/><circle cx="1501.7" cy="986.2" r="4.1"/><circle cx="1513.5" cy="1002.3" r="4.1"/><circle cx="1495.7" cy="1007.0" r="4.1"/><circle cx="1513.5" cy="1031.8" r="4.1"/><circle cx="1484.4" cy="1047.4" r="4.1"/><circle cx="1489.6" cy="1057.4" r="4.1"/><circle cx="1512.1" cy="1056.0" r="4.1"/><circle cx="1498.6" cy="1065.6" r="4.1"/><circle cx="1485.8" cy="1082.9" r="4.1"/><circle cx="1491.3" cy="1086.4" r="4.1"/><circle cx="1498.3" cy="1081.2" r="4.1"/><circle cx="1507.4" cy="1077.7" r="4.1"/><circle cx="1508.4" cy="1090.1" r="4.1"/><circle cx="1493.1" cy="1103.1" r="4.1"/><circle cx="1505.3" cy="1104.9" r="4.1"/><circle cx="1509.7" cy="1106.6" r="4.1"/><circle cx="1486.2" cy="1117.9" r="4.1"/><circle cx="1485.3" cy="1121.4" r="4.1"/><circle cx="1494.9" cy="1119.7" r="4.1"/><circle cx="1501.8" cy="1115.3" r="4.1"/><circle cx="1505.3" cy="1113.6" r="4.1"/><circle cx="1511.4" cy="1121.4" r="4.1"/><circle cx="1495.7" cy="1133.6" r="4.1"/><circle cx="1501.0" cy="1135.3" r="4.1"/><circle cx="1498.3" cy="1139.7" r="4.1"/><circle cx="1492.3" cy="1157.9" r="4.1"/><circle cx="1504.4" cy="1168.3" r="4.1"/><circle cx="1508.8" cy="1172.7" r="4.1"/><circle cx="1498.3" cy="1177.0" r="4.1"/><circle cx="1503.6" cy="1180.5" r="4.1"/><circle cx="1507.9" cy="1182.3" r="4.1"/><circle cx="1496.6" cy="1186.6" r="4.1"/><circle cx="1504.4" cy="1188.3" r="4.1"/><circle cx="1487.0" cy="1191.0" r="4.1"/><circle cx="1505.3" cy="1193.6" r="4.1"/><circle cx="1494.9" cy="1202.3" r="4.1"/><circle cx="1494.0" cy="1209.2" r="4.1"/><circle cx="1506.2" cy="1205.7" r="4.1"/><circle cx="1507.9" cy="1207.5" r="4.1"/><circle cx="1490.5" cy="1214.4" r="4.1"/><circle cx="1485.3" cy="1218.8" r="4.1"/><circle cx="1492.3" cy="1219.7" r="4.1"/><circle cx="1483.6" cy="1224.9" r="4.1"/><circle cx="1502.7" cy="1221.4" r="4.1"/><circle cx="1511.4" cy="1221.4" r="4.1"/><circle cx="1506.2" cy="1224.9" r="4.1"/><circle cx="1515.7" cy="1224.9" r="4.1"/><circle cx="1487.0" cy="1233.6" r="4.1"/><circle cx="1494.9" cy="1235.3" r="4.1"/><circle cx="1501.0" cy="1237.0" r="4.1"/><circle cx="1510.5" cy="1230.1" r="4.1"/><circle cx="1511.4" cy="1235.3" r="4.1"/><circle cx="1510.5" cy="1244.0" r="4.1"/><circle cx="1501.0" cy="1240.5" r="4.1"/><circle cx="1489.7" cy="1250.1" r="4.1"/><circle cx="1497.5" cy="1249.2" r="4.1"/><circle cx="1502.7" cy="1251.8" r="4.1"/><circle cx="1495.7" cy="1257.0" r="4.1"/><circle cx="1505.3" cy="1262.3" r="4.1"/><circle cx="1504.4" cy="1264.9" r="4.1"/><circle cx="1487.9" cy="1268.3" r="4.1"/><circle cx="1494.0" cy="1265.7" r="4.1"/><circle cx="1507.9" cy="1271.0" r="4.1"/><circle cx="1484.4" cy="1275.3" r="4.1"/><circle cx="1494.9" cy="1272.7" r="4.1"/><circle cx="1504.4" cy="1275.3" r="4.1"/><circle cx="1509.7" cy="1277.0" r="4.1"/><circle cx="1488.8" cy="1284.0" r="4.1"/><circle cx="1497.5" cy="1284.9" r="4.1"/><circle cx="1501.8" cy="1281.4" r="4.1"/><circle cx="1514.0" cy="1281.4" r="4.1"/><circle cx="1510.5" cy="1290.1" r="4.1"/><circle cx="1483.6" cy="1295.3" r="4.1"/><circle cx="1493.1" cy="1292.7" r="4.1"/><circle cx="1501.0" cy="1296.2" r="4.1"/><circle cx="1505.3" cy="1292.7" r="4.1"/><circle cx="1484.4" cy="1299.7" r="4.1"/><circle cx="1489.7" cy="1304.9" r="4.1"/><circle cx="1496.6" cy="1301.4" r="4.1"/><circle cx="1501.8" cy="1306.6" r="4.1"/><circle cx="1510.5" cy="1305.7" r="4.1"/><circle cx="1486.2" cy="1313.6" r="4.1"/><circle cx="1493.1" cy="1311.8" r="4.1"/><circle cx="1502.7" cy="1313.6" r="4.1"/><circle cx="1509.7" cy="1317.0" r="4.1"/><circle cx="1514.0" cy="1313.6" r="4.1"/><circle cx="1482.7" cy="1319.7" r="4.1"/><circle cx="1494.0" cy="1319.7" r="4.1"/><circle cx="1500.1" cy="1320.5" r="4.1"/><circle cx="1508.8" cy="1319.7" r="4.1"/>
</g>
<line x1="228.0" y1="78.5" x2="678.0" y2="78.5" stroke="#000" stroke-width="2.1"/>
<line x1="228.0" y1="163.5" x2="442.0" y2="163.5" stroke="#000" stroke-width="2.1"/>
<line x1="464.5" y1="163.5" x2="678.0" y2="163.5" stroke="#000" stroke-width="2.1"/>
<line x1="1025.2" y1="76.5" x2="1467.5" y2="76.5" stroke="#000" stroke-width="2.1"/>
<line x1="1025.2" y1="157.0" x2="1234.9" y2="157.0" stroke="#000" stroke-width="2.1"/>
<line x1="1257.8" y1="157.0" x2="1467.5" y2="157.0" stroke="#000" stroke-width="2.1"/>
<line x1="225.4" y1="780.7" x2="671.6" y2="780.7" stroke="#000" stroke-width="2.1"/>
<line x1="225.4" y1="853.4" x2="437.0" y2="853.4" stroke="#000" stroke-width="2.1"/>
<line x1="460.0" y1="853.4" x2="671.6" y2="853.4" stroke="#000" stroke-width="2.1"/>
<line x1="1040.8" y1="776.0" x2="1467.5" y2="776.0" stroke="#000" stroke-width="2.1"/>
<line x1="1040.8" y1="844.3" x2="1242.2" y2="844.3" stroke="#000" stroke-width="2.1"/>
<line x1="1264.2" y1="844.3" x2="1467.5" y2="844.3" stroke="#000" stroke-width="2.1"/>
<text x="293.58" y="62.80" style="font-size:28.00px;font-style:italic;">δ</text>
<text transform="translate(314.16,63.06) scale(1.120,0.850)" style="font-size:28.10px;">=</text>
<text transform="translate(336.27,64.54) scale(1.105,1.000)" style="font-size:28.10px;">−</text>
<text x="356.40" y="62.80" style="font-size:28.10px;letter-spacing:0.057px;">0.7566</text>
<text x="462.41" y="60.20" style="font-size:28.60px;font-style:italic;">p</text>
<text transform="translate(484.54,61.95) scale(1.040,1.000)" style="font-size:28.40px;">&lt;</text>
<text x="504.99" y="60.20" style="font-size:28.10px;letter-spacing:-0.024px;">2.2×10</text>
<text x="592.21" y="50.80" style="font-size:16.10px;letter-spacing:0.096px;">−16</text>
<text x="278.61" y="119.90" style="font-size:28.60px;font-style:italic;">p</text>
<text transform="translate(300.26,120.16) scale(1.120,0.850)" style="font-size:28.10px;">=</text>
<text x="323.00" y="119.90" style="font-size:28.10px;letter-spacing:0.098px;">0.082</text>
<text x="264.88" y="150.60" style="font-size:28.00px;font-style:italic;">δ</text>
<text transform="translate(285.56,150.86) scale(1.120,0.850)" style="font-size:28.10px;">=</text>
<text transform="translate(307.37,152.34) scale(1.105,1.000)" style="font-size:28.10px;">−</text>
<text x="327.80" y="150.60" style="font-size:28.10px;letter-spacing:-0.003px;">0.1376</text>
<text x="494.81" y="119.60" style="font-size:28.60px;font-style:italic;">p</text>
<text transform="translate(516.94,121.35) scale(1.040,1.000)" style="font-size:28.40px;">&lt;</text>
<text x="537.79" y="119.60" style="font-size:28.10px;letter-spacing:-0.064px;">2.2×10</text>
<text x="624.61" y="110.20" style="font-size:16.10px;letter-spacing:-0.054px;">−16</text>
<text x="497.38" y="150.70" style="font-size:28.00px;font-style:italic;">δ</text>
<text transform="translate(518.66,150.96) scale(1.120,0.850)" style="font-size:28.10px;">=</text>
<text transform="translate(540.27,152.44) scale(1.105,1.000)" style="font-size:28.10px;">−</text>
<text x="560.60" y="150.70" style="font-size:28.10px;letter-spacing:-0.083px;">0.6606</text>
<text x="1090.18" y="63.00" style="font-size:28.00px;font-style:italic;">δ</text>
<text transform="translate(1110.86,63.26) scale(1.120,0.850)" style="font-size:28.10px;">=</text>
<text transform="translate(1132.57,64.74) scale(1.105,1.000)" style="font-size:28.10px;">−</text>
<text x="1153.20" y="63.00" style="font-size:28.10px;letter-spacing:-0.110px;">0.3940</text>
<text x="1261.91" y="60.10" style="font-size:28.60px;font-style:italic;">p</text>
<text transform="translate(1280.26,60.36) scale(1.120,0.850)" style="font-size:28.10px;">=</text>
<text x="1304.23" y="60.10" style="font-size:28.10px;letter-spacing:-0.052px;">3.0×10</text>
<text x="1390.51" y="50.50" style="font-size:16.10px;letter-spacing:-0.052px;">−7</text>
<text x="1074.41" y="116.10" style="font-size:28.60px;font-style:italic;">p</text>
<text transform="translate(1095.86,116.36) scale(1.120,0.850)" style="font-size:28.10px;">=</text>
<text x="1118.60" y="116.10" style="font-size:28.10px;letter-spacing:0.003px;">0.006</text>
<text x="1060.38" y="146.60" style="font-size:28.00px;font-style:italic;">δ</text>
<text transform="translate(1081.36,146.86) scale(1.120,0.850)" style="font-size:28.10px;">=</text>
<text transform="translate(1102.87,148.34) scale(1.105,1.000)" style="font-size:28.10px;">−</text>
<text x="1123.30" y="146.60" style="font-size:28.10px;letter-spacing:-0.003px;">0.2323</text>
<text x="1302.71" y="116.10" style="font-size:28.60px;font-style:italic;">p</text>
<text transform="translate(1324.06,116.36) scale(1.120,0.850)" style="font-size:28.10px;">=</text>
<text x="1347.10" y="116.10" style="font-size:28.10px;letter-spacing:-0.677px;">0.017</text>
<text x="1294.98" y="146.60" style="font-size:28.00px;font-style:italic;">δ</text>
<text transform="translate(1315.86,146.86) scale(1.120,0.850)" style="font-size:28.10px;">=</text>
<text transform="translate(1337.77,148.34) scale(1.105,1.000)" style="font-size:28.10px;">−</text>
<text x="1357.90" y="146.60" style="font-size:28.10px;letter-spacing:-0.875px;">0.1871</text>
<text x="297.88" y="767.70" style="font-size:28.00px;font-style:italic;">δ</text>
<text transform="translate(318.96,767.96) scale(1.120,0.850)" style="font-size:28.10px;">=</text>
<text x="341.50" y="767.70" style="font-size:28.10px;letter-spacing:-0.325px;">0.6004</text>
<text x="438.91" y="765.20" style="font-size:28.60px;font-style:italic;">p</text>
<text transform="translate(460.94,766.95) scale(1.040,1.000)" style="font-size:28.40px;">&lt;</text>
<text x="485.19" y="765.20" style="font-size:28.10px;letter-spacing:-0.024px;">2.2×10</text>
<text x="572.01" y="755.80" style="font-size:16.10px;letter-spacing:0.246px;">−16</text>
<text x="283.21" y="812.60" style="font-size:28.60px;font-style:italic;">p</text>
<text transform="translate(304.96,812.86) scale(1.120,0.850)" style="font-size:28.10px;">=</text>
<text x="328.00" y="812.60" style="font-size:28.10px;letter-spacing:-0.031px;">0.020</text>
<text x="261.98" y="844.40" style="font-size:28.00px;font-style:italic;">δ</text>
<text transform="translate(282.86,844.66) scale(1.120,0.850)" style="font-size:28.10px;">=</text>
<text transform="translate(304.47,846.14) scale(1.105,1.000)" style="font-size:28.10px;">−</text>
<text x="324.90" y="844.40" style="font-size:28.10px;letter-spacing:-0.023px;">0.1826</text>
<text x="490.31" y="812.10" style="font-size:28.60px;font-style:italic;">p</text>
<text transform="translate(512.44,813.85) scale(1.040,1.000)" style="font-size:28.40px;">&lt;</text>
<text x="533.39" y="812.10" style="font-size:28.10px;letter-spacing:-0.084px;">2.2×10</text>
<text x="620.01" y="802.70" style="font-size:16.10px;letter-spacing:0.246px;">−16</text>
<text x="494.28" y="844.10" style="font-size:28.00px;font-style:italic;">δ</text>
<text transform="translate(515.46,844.36) scale(1.120,0.850)" style="font-size:28.10px;">=</text>
<text x="538.20" y="844.10" style="font-size:28.10px;letter-spacing:0.073px;">0.7037</text>
<text x="1105.88" y="766.60" style="font-size:28.00px;font-style:italic;">δ</text>
<text transform="translate(1126.96,766.86) scale(1.120,0.850)" style="font-size:28.10px;">=</text>
<text transform="translate(1148.67,768.34) scale(1.105,1.000)" style="font-size:28.10px;">−</text>
<text x="1168.80" y="766.60" style="font-size:28.10px;letter-spacing:0.010px;">0.2390</text>
<text x="1272.11" y="764.80" style="font-size:28.60px;font-style:italic;">p</text>
<text transform="translate(1292.56,765.06) scale(1.120,0.850)" style="font-size:28.10px;">=</text>
<text x="1315.70" y="764.80" style="font-size:28.10px;letter-spacing:-0.862px;">0.001</text>
<text x="1090.31" y="806.30" style="font-size:28.60px;font-style:italic;">p</text>
<text transform="translate(1111.66,806.56) scale(1.120,0.850)" style="font-size:28.10px;">=</text>
<text x="1134.70" y="806.30" style="font-size:28.10px;letter-spacing:0.123px;">0.007</text>
<text x="1073.88" y="836.00" style="font-size:28.00px;font-style:italic;">δ</text>
<text transform="translate(1094.86,836.26) scale(1.120,0.850)" style="font-size:28.10px;">=</text>
<text transform="translate(1116.37,837.74) scale(1.105,1.000)" style="font-size:28.10px;">−</text>
<text x="1136.80" y="836.00" style="font-size:28.10px;letter-spacing:0.097px;">0.2053</text>
<text x="1303.61" y="806.30" style="font-size:28.60px;font-style:italic;">p</text>
<text transform="translate(1325.26,806.56) scale(1.120,0.850)" style="font-size:28.10px;">=</text>
<text x="1347.80" y="806.30" style="font-size:28.10px;letter-spacing:0.065px;">0.335</text>
<text x="1287.28" y="836.00" style="font-size:28.00px;font-style:italic;">δ</text>
<text transform="translate(1308.46,836.26) scale(1.120,0.850)" style="font-size:28.10px;">=</text>
<text transform="translate(1329.77,837.74) scale(1.105,1.000)" style="font-size:28.10px;">−</text>
<text x="1350.40" y="836.00" style="font-size:28.10px;letter-spacing:-0.815px;">0.0681</text>
<text x="-1.10" y="30.00" style="font-size:44.00px;font-weight:bold;">A</text>
<text x="802.19" y="29.90" style="font-size:42.00px;font-weight:bold;">B</text>
<text x="-0.34" y="772.40" style="font-size:42.50px;font-weight:bold;">C</text>
<text x="781.19" y="771.40" style="font-size:42.00px;font-weight:bold;">D</text>
<text x="98.43" y="55.40" style="font-size:26.50px;">Pain</text>
<text x="98.55" y="83.10" style="font-size:26.50px;">Cooling</text>
<text x="212.49" y="701.00" style="font-size:32.40px;font-style:italic;">β</text>
<text x="231.52" y="703.80" style="font-size:22.30px;">n</text>
<text x="440.39" y="701.00" style="font-size:32.40px;font-style:italic;">β</text>
<text x="459.42" y="703.80" style="font-size:22.30px;">n</text>
<text x="662.78" y="697.90" style="font-size:30.00px;font-style:italic;">P</text>
<text x="683.52" y="703.80" style="font-size:22.30px;">n</text>
<text x="1001.79" y="700.90" style="font-size:32.40px;font-style:italic;">β</text>
<text x="1020.82" y="703.70" style="font-size:22.30px;">n</text>
<text x="1229.99" y="700.90" style="font-size:32.40px;font-style:italic;">β</text>
<text x="1249.02" y="703.70" style="font-size:22.30px;">n</text>
<text x="1451.98" y="697.80" style="font-size:30.00px;font-style:italic;">P</text>
<text x="1472.72" y="703.70" style="font-size:22.30px;">n</text>
<text x="205.79" y="1406.00" style="font-size:32.40px;font-style:italic;">β</text>
<text x="224.82" y="1408.80" style="font-size:22.30px;">n</text>
<text x="434.39" y="1406.00" style="font-size:32.40px;font-style:italic;">β</text>
<text x="453.42" y="1408.80" style="font-size:22.30px;">n</text>
<text x="656.78" y="1402.90" style="font-size:30.00px;font-style:italic;">P</text>
<text x="677.52" y="1408.80" style="font-size:22.30px;">n</text>
<text x="1018.39" y="1406.40" style="font-size:32.40px;font-style:italic;">β</text>
<text x="1037.42" y="1409.20" style="font-size:22.30px;">n</text>
<text x="1228.39" y="1406.40" style="font-size:32.40px;font-style:italic;">β</text>
<text x="1247.42" y="1409.20" style="font-size:22.30px;">n</text>
<text x="1450.88" y="1403.30" style="font-size:30.00px;font-style:italic;">P</text>
<text x="1471.62" y="1409.20" style="font-size:22.30px;">n</text>
<text transform="translate(50.60,390.83) rotate(-90)" style="font-size:33.50px;font-style:italic;">τ</text>
<text transform="translate(45.40,366.88) rotate(-90)" style="font-size:33.50px;letter-spacing:-0.553px;">(s)</text>
<text transform="translate(841.10,422.51) rotate(-90)" style="font-size:33.50px;font-style:italic;">T</text>
<text transform="translate(846.80,401.60) rotate(-90)" style="font-size:23.90px;font-style:italic;">p</text>
<text transform="translate(841.20,380.18) rotate(-90)" style="font-size:33.50px;letter-spacing:-0.503px;">(s)</text>
<text transform="translate(45.00,1130.41) rotate(-90)" style="font-size:33.50px;font-style:italic;">T</text>
<text transform="translate(51.80,1107.30) rotate(-90)" style="font-size:24.30px;font-style:italic;">r</text>
<text transform="translate(45.00,1093.08) rotate(-90)" style="font-size:33.50px;letter-spacing:-0.253px;">(s)</text>
<text transform="translate(841.30,1255.45) rotate(-90)" style="font-size:33.50px;letter-spacing:-0.167px;">Normalized</text>
<text transform="translate(841.10,1071.05) rotate(-90)" style="font-size:33.50px;font-style:italic;">A</text>
<text transform="translate(847.20,1046.21) rotate(-90)" style="font-size:23.60px;font-style:italic;letter-spacing:0.034px;">pn</text>
<text transform="translate(841.30,1011.68) rotate(-90)" style="font-size:33.50px;letter-spacing:-0.367px;">(a.u.)</text>
<text class="tl" x="60.98" y="629.63" style="font-size:30.60px;">0</text>
<text class="tl" x="61.28" y="544.65" style="font-size:30.60px;">1</text>
<text class="tl" x="61.32" y="459.67" style="font-size:30.60px;">2</text>
<text class="tl" x="61.13" y="374.69" style="font-size:30.60px;">3</text>
<text class="tl" x="60.68" y="289.71" style="font-size:30.60px;">4</text>
<text class="tl" x="61.07" y="204.73" style="font-size:30.60px;">5</text>
<text class="tl" x="61.13" y="119.75" style="font-size:30.60px;">6</text>
<text class="tl" x="861.18" y="632.03" style="font-size:30.60px;">1</text>
<text class="tl" x="861.22" y="551.96" style="font-size:30.60px;">2</text>
<text class="tl" x="861.03" y="471.89" style="font-size:30.60px;">3</text>
<text class="tl" x="860.58" y="391.82" style="font-size:30.60px;">4</text>
<text class="tl" x="860.97" y="311.75" style="font-size:30.60px;">5</text>
<text class="tl" x="861.03" y="231.68" style="font-size:30.60px;">6</text>
<text class="tl" x="861.22" y="151.61" style="font-size:30.60px;">7</text>
<text class="tl" x="60.98" y="1341.43" style="font-size:30.60px;">0</text>
<text class="tl" x="61.28" y="1222.18" style="font-size:30.60px;">1</text>
<text class="tl" x="61.32" y="1102.93" style="font-size:30.60px;">2</text>
<text class="tl" x="61.13" y="983.68" style="font-size:30.60px;">3</text>
<text class="tl" x="60.68" y="864.43" style="font-size:30.60px;">4</text>
<text class="tl" x="880.58" y="1332.13" style="font-size:30.60px;">0</text>
<text class="tl" x="855.40" y="1241.41" style="font-size:30.60px;">0.2</text>
<text class="tl" x="854.76" y="1150.69" style="font-size:30.60px;">0.4</text>
<text class="tl" x="855.21" y="1059.97" style="font-size:30.60px;">0.6</text>
<text class="tl" x="855.19" y="969.25" style="font-size:30.60px;">0.8</text>
<text class="tl" x="855.06" y="878.53" style="font-size:30.60px;">1.0</text>
</svg></body></html>
